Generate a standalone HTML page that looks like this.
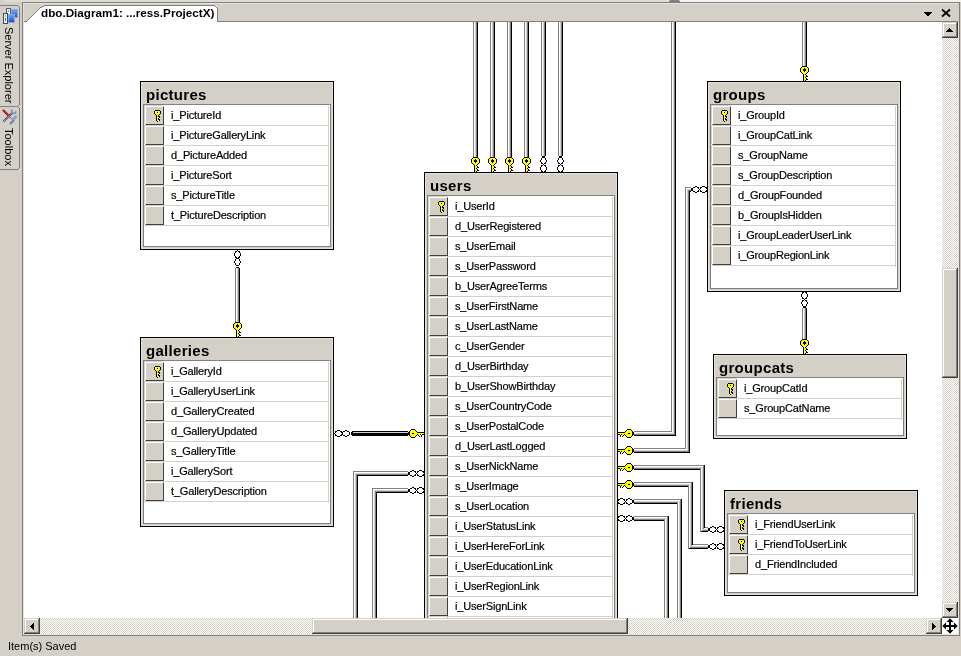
<!DOCTYPE html><html><head><meta charset="utf-8"><style>
html,body{margin:0;padding:0}
body{width:961px;height:656px;overflow:hidden;background:#d4d0c8;position:relative;font-family:"Liberation Sans",sans-serif;}
.a{position:absolute}
.tb{position:absolute;background:#d4d0c8;box-sizing:border-box;border:1px solid #000;box-shadow:inset 1px 1px 0 #e4e1db, inset -1px -1px 0 #e4e1db;}
.tt{will-change:transform;position:absolute;left:5px;top:4px;font-size:15px;font-weight:bold;color:#000;line-height:18px;letter-spacing:0.3px}
.gr{position:absolute;left:2px;top:22px;width:186px;border:1px solid #808080;background:#fff}
.rb{position:absolute;left:4px;width:17px;height:17px;border-top:1px solid #fff;border-left:1px solid #fff;border-right:1px solid #404040;border-bottom:1px solid #404040;background:#d4d0c8;box-shadow:-1px -1px 0 #d4d0c8}
.rl{position:absolute;left:3px;width:185px;height:1px;background:#d4d0c8}
.vl{position:absolute;left:187px;top:24px;width:1px;background:#d4d0c8}
.rt{will-change:transform;-webkit-text-stroke:0.2px #000;position:absolute;left:30px;height:19px;line-height:19px;font-size:11px;color:#000;white-space:nowrap;letter-spacing:-0.17px}
.ks{position:absolute;left:0;top:0}
</style></head><body><div class="a" style="left:5px;top:0;width:664px;height:2px;background:#dfdcd5"></div><div class="a" style="left:670px;top:0;width:9px;height:1px;background:#808080"></div><div class="a" style="left:669px;top:1px;width:11px;height:1px;background:#808080"></div><div class="a" style="left:680px;top:0;width:281px;height:2px;background:#f2f2f0"></div><div class="a" style="left:22px;top:2px;width:936px;height:632px;border:1px solid #808080;background:#d4d0c8"></div><div class="a" style="left:23px;top:22px;width:919px;height:596px;background:#fff;overflow:hidden"><div class="a" style="left:-23px;top:-22px;width:961px;height:656px"><div class="tb" style="left:140px;top:81px;width:194px;height:169px"><div class="tt">pictures</div><div class="gr" style="height:141px"></div><div class="rb" style="top:24px"></div><div class="rl" style="top:43px"></div><div class="rt" style="top:24px">i_PictureId</div><div class="rb" style="top:44px"></div><div class="rl" style="top:63px"></div><div class="rt" style="top:44px">i_PictureGalleryLink</div><div class="rb" style="top:64px"></div><div class="rl" style="top:83px"></div><div class="rt" style="top:64px">d_PictureAdded</div><div class="rb" style="top:84px"></div><div class="rl" style="top:103px"></div><div class="rt" style="top:84px">i_PictureSort</div><div class="rb" style="top:104px"></div><div class="rl" style="top:123px"></div><div class="rt" style="top:104px">s_PictureTitle</div><div class="rb" style="top:124px"></div><div class="rl" style="top:143px"></div><div class="rt" style="top:124px">t_PictureDescription</div><div class="vl" style="height:121px"></div><svg class="ks" width="30" height="146" shape-rendering="crispEdges"><rect x="14" y="28" width="1" height="1" fill="#000"/><rect x="15" y="28" width="1" height="1" fill="#000"/><rect x="16" y="28" width="1" height="1" fill="#000"/><rect x="17" y="28" width="1" height="1" fill="#000"/><rect x="18" y="28" width="1" height="1" fill="#000"/><rect x="13" y="29" width="1" height="1" fill="#000"/><rect x="14" y="29" width="1" height="1" fill="#ff0"/><rect x="15" y="29" width="1" height="1" fill="#ff0"/><rect x="16" y="29" width="1" height="1" fill="#ff0"/><rect x="17" y="29" width="1" height="1" fill="#ff0"/><rect x="18" y="29" width="1" height="1" fill="#ff0"/><rect x="19" y="29" width="1" height="1" fill="#000"/><rect x="13" y="30" width="1" height="1" fill="#000"/><rect x="14" y="30" width="1" height="1" fill="#ff0"/><rect x="15" y="30" width="1" height="1" fill="#ff0"/><rect x="16" y="30" width="1" height="1" fill="#000"/><rect x="17" y="30" width="1" height="1" fill="#ff0"/><rect x="18" y="30" width="1" height="1" fill="#ff0"/><rect x="19" y="30" width="1" height="1" fill="#000"/><rect x="13" y="31" width="1" height="1" fill="#000"/><rect x="14" y="31" width="1" height="1" fill="#ff0"/><rect x="15" y="31" width="1" height="1" fill="#ff0"/><rect x="16" y="31" width="1" height="1" fill="#ff0"/><rect x="17" y="31" width="1" height="1" fill="#ff0"/><rect x="18" y="31" width="1" height="1" fill="#ff0"/><rect x="19" y="31" width="1" height="1" fill="#000"/><rect x="14" y="32" width="1" height="1" fill="#000"/><rect x="15" y="32" width="1" height="1" fill="#ff0"/><rect x="16" y="32" width="1" height="1" fill="#ff0"/><rect x="17" y="32" width="1" height="1" fill="#ff0"/><rect x="18" y="32" width="1" height="1" fill="#000"/><rect x="15" y="33" width="1" height="1" fill="#000"/><rect x="16" y="33" width="1" height="1" fill="#ff0"/><rect x="17" y="33" width="1" height="1" fill="#000"/><rect x="15" y="34" width="1" height="1" fill="#000"/><rect x="16" y="34" width="1" height="1" fill="#ff0"/><rect x="17" y="34" width="1" height="1" fill="#000"/><rect x="18" y="34" width="1" height="1" fill="#000"/><rect x="15" y="35" width="1" height="1" fill="#000"/><rect x="16" y="35" width="1" height="1" fill="#ff0"/><rect x="17" y="35" width="1" height="1" fill="#ff0"/><rect x="18" y="35" width="1" height="1" fill="#000"/><rect x="15" y="36" width="1" height="1" fill="#000"/><rect x="16" y="36" width="1" height="1" fill="#ff0"/><rect x="17" y="36" width="1" height="1" fill="#000"/><rect x="15" y="37" width="1" height="1" fill="#000"/><rect x="16" y="37" width="1" height="1" fill="#ff0"/><rect x="17" y="37" width="1" height="1" fill="#000"/><rect x="18" y="37" width="1" height="1" fill="#000"/><rect x="15" y="38" width="1" height="1" fill="#000"/><rect x="16" y="38" width="1" height="1" fill="#ff0"/><rect x="17" y="38" width="1" height="1" fill="#ff0"/><rect x="18" y="38" width="1" height="1" fill="#000"/><rect x="16" y="39" width="1" height="1" fill="#000"/></svg></div><div class="tb" style="left:140px;top:337px;width:194px;height:190px"><div class="tt">galleries</div><div class="gr" style="height:162px"></div><div class="rb" style="top:24px"></div><div class="rl" style="top:43px"></div><div class="rt" style="top:24px">i_GalleryId</div><div class="rb" style="top:44px"></div><div class="rl" style="top:63px"></div><div class="rt" style="top:44px">i_GalleryUserLink</div><div class="rb" style="top:64px"></div><div class="rl" style="top:83px"></div><div class="rt" style="top:64px">d_GalleryCreated</div><div class="rb" style="top:84px"></div><div class="rl" style="top:103px"></div><div class="rt" style="top:84px">d_GalleryUpdated</div><div class="rb" style="top:104px"></div><div class="rl" style="top:123px"></div><div class="rt" style="top:104px">s_GalleryTitle</div><div class="rb" style="top:124px"></div><div class="rl" style="top:143px"></div><div class="rt" style="top:124px">i_GallerySort</div><div class="rb" style="top:144px"></div><div class="rl" style="top:163px"></div><div class="rt" style="top:144px">t_GalleryDescription</div><div class="vl" style="height:141px"></div><svg class="ks" width="30" height="166" shape-rendering="crispEdges"><rect x="14" y="28" width="1" height="1" fill="#000"/><rect x="15" y="28" width="1" height="1" fill="#000"/><rect x="16" y="28" width="1" height="1" fill="#000"/><rect x="17" y="28" width="1" height="1" fill="#000"/><rect x="18" y="28" width="1" height="1" fill="#000"/><rect x="13" y="29" width="1" height="1" fill="#000"/><rect x="14" y="29" width="1" height="1" fill="#ff0"/><rect x="15" y="29" width="1" height="1" fill="#ff0"/><rect x="16" y="29" width="1" height="1" fill="#ff0"/><rect x="17" y="29" width="1" height="1" fill="#ff0"/><rect x="18" y="29" width="1" height="1" fill="#ff0"/><rect x="19" y="29" width="1" height="1" fill="#000"/><rect x="13" y="30" width="1" height="1" fill="#000"/><rect x="14" y="30" width="1" height="1" fill="#ff0"/><rect x="15" y="30" width="1" height="1" fill="#ff0"/><rect x="16" y="30" width="1" height="1" fill="#000"/><rect x="17" y="30" width="1" height="1" fill="#ff0"/><rect x="18" y="30" width="1" height="1" fill="#ff0"/><rect x="19" y="30" width="1" height="1" fill="#000"/><rect x="13" y="31" width="1" height="1" fill="#000"/><rect x="14" y="31" width="1" height="1" fill="#ff0"/><rect x="15" y="31" width="1" height="1" fill="#ff0"/><rect x="16" y="31" width="1" height="1" fill="#ff0"/><rect x="17" y="31" width="1" height="1" fill="#ff0"/><rect x="18" y="31" width="1" height="1" fill="#ff0"/><rect x="19" y="31" width="1" height="1" fill="#000"/><rect x="14" y="32" width="1" height="1" fill="#000"/><rect x="15" y="32" width="1" height="1" fill="#ff0"/><rect x="16" y="32" width="1" height="1" fill="#ff0"/><rect x="17" y="32" width="1" height="1" fill="#ff0"/><rect x="18" y="32" width="1" height="1" fill="#000"/><rect x="15" y="33" width="1" height="1" fill="#000"/><rect x="16" y="33" width="1" height="1" fill="#ff0"/><rect x="17" y="33" width="1" height="1" fill="#000"/><rect x="15" y="34" width="1" height="1" fill="#000"/><rect x="16" y="34" width="1" height="1" fill="#ff0"/><rect x="17" y="34" width="1" height="1" fill="#000"/><rect x="18" y="34" width="1" height="1" fill="#000"/><rect x="15" y="35" width="1" height="1" fill="#000"/><rect x="16" y="35" width="1" height="1" fill="#ff0"/><rect x="17" y="35" width="1" height="1" fill="#ff0"/><rect x="18" y="35" width="1" height="1" fill="#000"/><rect x="15" y="36" width="1" height="1" fill="#000"/><rect x="16" y="36" width="1" height="1" fill="#ff0"/><rect x="17" y="36" width="1" height="1" fill="#000"/><rect x="15" y="37" width="1" height="1" fill="#000"/><rect x="16" y="37" width="1" height="1" fill="#ff0"/><rect x="17" y="37" width="1" height="1" fill="#000"/><rect x="18" y="37" width="1" height="1" fill="#000"/><rect x="15" y="38" width="1" height="1" fill="#000"/><rect x="16" y="38" width="1" height="1" fill="#ff0"/><rect x="17" y="38" width="1" height="1" fill="#ff0"/><rect x="18" y="38" width="1" height="1" fill="#000"/><rect x="16" y="39" width="1" height="1" fill="#000"/></svg></div><div class="tb" style="left:424px;top:172px;width:194px;height:460px"><div class="tt">users</div><div class="gr" style="height:432px"></div><div class="rb" style="top:24px"></div><div class="rl" style="top:43px"></div><div class="rt" style="top:24px">i_UserId</div><div class="rb" style="top:44px"></div><div class="rl" style="top:63px"></div><div class="rt" style="top:44px">d_UserRegistered</div><div class="rb" style="top:64px"></div><div class="rl" style="top:83px"></div><div class="rt" style="top:64px">s_UserEmail</div><div class="rb" style="top:84px"></div><div class="rl" style="top:103px"></div><div class="rt" style="top:84px">s_UserPassword</div><div class="rb" style="top:104px"></div><div class="rl" style="top:123px"></div><div class="rt" style="top:104px">b_UserAgreeTerms</div><div class="rb" style="top:124px"></div><div class="rl" style="top:143px"></div><div class="rt" style="top:124px">s_UserFirstName</div><div class="rb" style="top:144px"></div><div class="rl" style="top:163px"></div><div class="rt" style="top:144px">s_UserLastName</div><div class="rb" style="top:164px"></div><div class="rl" style="top:183px"></div><div class="rt" style="top:164px">c_UserGender</div><div class="rb" style="top:184px"></div><div class="rl" style="top:203px"></div><div class="rt" style="top:184px">d_UserBirthday</div><div class="rb" style="top:204px"></div><div class="rl" style="top:223px"></div><div class="rt" style="top:204px">b_UserShowBirthday</div><div class="rb" style="top:224px"></div><div class="rl" style="top:243px"></div><div class="rt" style="top:224px">s_UserCountryCode</div><div class="rb" style="top:244px"></div><div class="rl" style="top:263px"></div><div class="rt" style="top:244px">s_UserPostalCode</div><div class="rb" style="top:264px"></div><div class="rl" style="top:283px"></div><div class="rt" style="top:264px">d_UserLastLogged</div><div class="rb" style="top:284px"></div><div class="rl" style="top:303px"></div><div class="rt" style="top:284px">s_UserNickName</div><div class="rb" style="top:304px"></div><div class="rl" style="top:323px"></div><div class="rt" style="top:304px">s_UserImage</div><div class="rb" style="top:324px"></div><div class="rl" style="top:343px"></div><div class="rt" style="top:324px">s_UserLocation</div><div class="rb" style="top:344px"></div><div class="rl" style="top:363px"></div><div class="rt" style="top:344px">i_UserStatusLink</div><div class="rb" style="top:364px"></div><div class="rl" style="top:383px"></div><div class="rt" style="top:364px">i_UserHereForLink</div><div class="rb" style="top:384px"></div><div class="rl" style="top:403px"></div><div class="rt" style="top:384px">i_UserEducationLink</div><div class="rb" style="top:404px"></div><div class="rl" style="top:423px"></div><div class="rt" style="top:404px">i_UserRegionLink</div><div class="rb" style="top:424px"></div><div class="rl" style="top:443px"></div><div class="rt" style="top:424px">i_UserSignLink</div><div class="rb" style="top:444px"></div><div class="rl" style="top:463px"></div><div class="rt" style="top:444px">i_UserSomething</div><div class="vl" style="height:441px"></div><svg class="ks" width="30" height="466" shape-rendering="crispEdges"><rect x="14" y="28" width="1" height="1" fill="#000"/><rect x="15" y="28" width="1" height="1" fill="#000"/><rect x="16" y="28" width="1" height="1" fill="#000"/><rect x="17" y="28" width="1" height="1" fill="#000"/><rect x="18" y="28" width="1" height="1" fill="#000"/><rect x="13" y="29" width="1" height="1" fill="#000"/><rect x="14" y="29" width="1" height="1" fill="#ff0"/><rect x="15" y="29" width="1" height="1" fill="#ff0"/><rect x="16" y="29" width="1" height="1" fill="#ff0"/><rect x="17" y="29" width="1" height="1" fill="#ff0"/><rect x="18" y="29" width="1" height="1" fill="#ff0"/><rect x="19" y="29" width="1" height="1" fill="#000"/><rect x="13" y="30" width="1" height="1" fill="#000"/><rect x="14" y="30" width="1" height="1" fill="#ff0"/><rect x="15" y="30" width="1" height="1" fill="#ff0"/><rect x="16" y="30" width="1" height="1" fill="#000"/><rect x="17" y="30" width="1" height="1" fill="#ff0"/><rect x="18" y="30" width="1" height="1" fill="#ff0"/><rect x="19" y="30" width="1" height="1" fill="#000"/><rect x="13" y="31" width="1" height="1" fill="#000"/><rect x="14" y="31" width="1" height="1" fill="#ff0"/><rect x="15" y="31" width="1" height="1" fill="#ff0"/><rect x="16" y="31" width="1" height="1" fill="#ff0"/><rect x="17" y="31" width="1" height="1" fill="#ff0"/><rect x="18" y="31" width="1" height="1" fill="#ff0"/><rect x="19" y="31" width="1" height="1" fill="#000"/><rect x="14" y="32" width="1" height="1" fill="#000"/><rect x="15" y="32" width="1" height="1" fill="#ff0"/><rect x="16" y="32" width="1" height="1" fill="#ff0"/><rect x="17" y="32" width="1" height="1" fill="#ff0"/><rect x="18" y="32" width="1" height="1" fill="#000"/><rect x="15" y="33" width="1" height="1" fill="#000"/><rect x="16" y="33" width="1" height="1" fill="#ff0"/><rect x="17" y="33" width="1" height="1" fill="#000"/><rect x="15" y="34" width="1" height="1" fill="#000"/><rect x="16" y="34" width="1" height="1" fill="#ff0"/><rect x="17" y="34" width="1" height="1" fill="#000"/><rect x="18" y="34" width="1" height="1" fill="#000"/><rect x="15" y="35" width="1" height="1" fill="#000"/><rect x="16" y="35" width="1" height="1" fill="#ff0"/><rect x="17" y="35" width="1" height="1" fill="#ff0"/><rect x="18" y="35" width="1" height="1" fill="#000"/><rect x="15" y="36" width="1" height="1" fill="#000"/><rect x="16" y="36" width="1" height="1" fill="#ff0"/><rect x="17" y="36" width="1" height="1" fill="#000"/><rect x="15" y="37" width="1" height="1" fill="#000"/><rect x="16" y="37" width="1" height="1" fill="#ff0"/><rect x="17" y="37" width="1" height="1" fill="#000"/><rect x="18" y="37" width="1" height="1" fill="#000"/><rect x="15" y="38" width="1" height="1" fill="#000"/><rect x="16" y="38" width="1" height="1" fill="#ff0"/><rect x="17" y="38" width="1" height="1" fill="#ff0"/><rect x="18" y="38" width="1" height="1" fill="#000"/><rect x="16" y="39" width="1" height="1" fill="#000"/></svg></div><div class="tb" style="left:707px;top:81px;width:194px;height:211px"><div class="tt">groups</div><div class="gr" style="height:183px"></div><div class="rb" style="top:24px"></div><div class="rl" style="top:43px"></div><div class="rt" style="top:24px">i_GroupId</div><div class="rb" style="top:44px"></div><div class="rl" style="top:63px"></div><div class="rt" style="top:44px">i_GroupCatLink</div><div class="rb" style="top:64px"></div><div class="rl" style="top:83px"></div><div class="rt" style="top:64px">s_GroupName</div><div class="rb" style="top:84px"></div><div class="rl" style="top:103px"></div><div class="rt" style="top:84px">s_GroupDescription</div><div class="rb" style="top:104px"></div><div class="rl" style="top:123px"></div><div class="rt" style="top:104px">d_GroupFounded</div><div class="rb" style="top:124px"></div><div class="rl" style="top:143px"></div><div class="rt" style="top:124px">b_GroupIsHidden</div><div class="rb" style="top:144px"></div><div class="rl" style="top:163px"></div><div class="rt" style="top:144px">i_GroupLeaderUserLink</div><div class="rb" style="top:164px"></div><div class="rl" style="top:183px"></div><div class="rt" style="top:164px">i_GroupRegionLink</div><div class="vl" style="height:161px"></div><svg class="ks" width="30" height="186" shape-rendering="crispEdges"><rect x="14" y="28" width="1" height="1" fill="#000"/><rect x="15" y="28" width="1" height="1" fill="#000"/><rect x="16" y="28" width="1" height="1" fill="#000"/><rect x="17" y="28" width="1" height="1" fill="#000"/><rect x="18" y="28" width="1" height="1" fill="#000"/><rect x="13" y="29" width="1" height="1" fill="#000"/><rect x="14" y="29" width="1" height="1" fill="#ff0"/><rect x="15" y="29" width="1" height="1" fill="#ff0"/><rect x="16" y="29" width="1" height="1" fill="#ff0"/><rect x="17" y="29" width="1" height="1" fill="#ff0"/><rect x="18" y="29" width="1" height="1" fill="#ff0"/><rect x="19" y="29" width="1" height="1" fill="#000"/><rect x="13" y="30" width="1" height="1" fill="#000"/><rect x="14" y="30" width="1" height="1" fill="#ff0"/><rect x="15" y="30" width="1" height="1" fill="#ff0"/><rect x="16" y="30" width="1" height="1" fill="#000"/><rect x="17" y="30" width="1" height="1" fill="#ff0"/><rect x="18" y="30" width="1" height="1" fill="#ff0"/><rect x="19" y="30" width="1" height="1" fill="#000"/><rect x="13" y="31" width="1" height="1" fill="#000"/><rect x="14" y="31" width="1" height="1" fill="#ff0"/><rect x="15" y="31" width="1" height="1" fill="#ff0"/><rect x="16" y="31" width="1" height="1" fill="#ff0"/><rect x="17" y="31" width="1" height="1" fill="#ff0"/><rect x="18" y="31" width="1" height="1" fill="#ff0"/><rect x="19" y="31" width="1" height="1" fill="#000"/><rect x="14" y="32" width="1" height="1" fill="#000"/><rect x="15" y="32" width="1" height="1" fill="#ff0"/><rect x="16" y="32" width="1" height="1" fill="#ff0"/><rect x="17" y="32" width="1" height="1" fill="#ff0"/><rect x="18" y="32" width="1" height="1" fill="#000"/><rect x="15" y="33" width="1" height="1" fill="#000"/><rect x="16" y="33" width="1" height="1" fill="#ff0"/><rect x="17" y="33" width="1" height="1" fill="#000"/><rect x="15" y="34" width="1" height="1" fill="#000"/><rect x="16" y="34" width="1" height="1" fill="#ff0"/><rect x="17" y="34" width="1" height="1" fill="#000"/><rect x="18" y="34" width="1" height="1" fill="#000"/><rect x="15" y="35" width="1" height="1" fill="#000"/><rect x="16" y="35" width="1" height="1" fill="#ff0"/><rect x="17" y="35" width="1" height="1" fill="#ff0"/><rect x="18" y="35" width="1" height="1" fill="#000"/><rect x="15" y="36" width="1" height="1" fill="#000"/><rect x="16" y="36" width="1" height="1" fill="#ff0"/><rect x="17" y="36" width="1" height="1" fill="#000"/><rect x="15" y="37" width="1" height="1" fill="#000"/><rect x="16" y="37" width="1" height="1" fill="#ff0"/><rect x="17" y="37" width="1" height="1" fill="#000"/><rect x="18" y="37" width="1" height="1" fill="#000"/><rect x="15" y="38" width="1" height="1" fill="#000"/><rect x="16" y="38" width="1" height="1" fill="#ff0"/><rect x="17" y="38" width="1" height="1" fill="#ff0"/><rect x="18" y="38" width="1" height="1" fill="#000"/><rect x="16" y="39" width="1" height="1" fill="#000"/></svg></div><div class="tb" style="left:713px;top:354px;width:194px;height:85px"><div class="tt">groupcats</div><div class="gr" style="height:57px"></div><div class="rb" style="top:24px"></div><div class="rl" style="top:43px"></div><div class="rt" style="top:24px">i_GroupCatId</div><div class="rb" style="top:44px"></div><div class="rl" style="top:63px"></div><div class="rt" style="top:44px">s_GroupCatName</div><div class="vl" style="height:41px"></div><svg class="ks" width="30" height="66" shape-rendering="crispEdges"><rect x="14" y="28" width="1" height="1" fill="#000"/><rect x="15" y="28" width="1" height="1" fill="#000"/><rect x="16" y="28" width="1" height="1" fill="#000"/><rect x="17" y="28" width="1" height="1" fill="#000"/><rect x="18" y="28" width="1" height="1" fill="#000"/><rect x="13" y="29" width="1" height="1" fill="#000"/><rect x="14" y="29" width="1" height="1" fill="#ff0"/><rect x="15" y="29" width="1" height="1" fill="#ff0"/><rect x="16" y="29" width="1" height="1" fill="#ff0"/><rect x="17" y="29" width="1" height="1" fill="#ff0"/><rect x="18" y="29" width="1" height="1" fill="#ff0"/><rect x="19" y="29" width="1" height="1" fill="#000"/><rect x="13" y="30" width="1" height="1" fill="#000"/><rect x="14" y="30" width="1" height="1" fill="#ff0"/><rect x="15" y="30" width="1" height="1" fill="#ff0"/><rect x="16" y="30" width="1" height="1" fill="#000"/><rect x="17" y="30" width="1" height="1" fill="#ff0"/><rect x="18" y="30" width="1" height="1" fill="#ff0"/><rect x="19" y="30" width="1" height="1" fill="#000"/><rect x="13" y="31" width="1" height="1" fill="#000"/><rect x="14" y="31" width="1" height="1" fill="#ff0"/><rect x="15" y="31" width="1" height="1" fill="#ff0"/><rect x="16" y="31" width="1" height="1" fill="#ff0"/><rect x="17" y="31" width="1" height="1" fill="#ff0"/><rect x="18" y="31" width="1" height="1" fill="#ff0"/><rect x="19" y="31" width="1" height="1" fill="#000"/><rect x="14" y="32" width="1" height="1" fill="#000"/><rect x="15" y="32" width="1" height="1" fill="#ff0"/><rect x="16" y="32" width="1" height="1" fill="#ff0"/><rect x="17" y="32" width="1" height="1" fill="#ff0"/><rect x="18" y="32" width="1" height="1" fill="#000"/><rect x="15" y="33" width="1" height="1" fill="#000"/><rect x="16" y="33" width="1" height="1" fill="#ff0"/><rect x="17" y="33" width="1" height="1" fill="#000"/><rect x="15" y="34" width="1" height="1" fill="#000"/><rect x="16" y="34" width="1" height="1" fill="#ff0"/><rect x="17" y="34" width="1" height="1" fill="#000"/><rect x="18" y="34" width="1" height="1" fill="#000"/><rect x="15" y="35" width="1" height="1" fill="#000"/><rect x="16" y="35" width="1" height="1" fill="#ff0"/><rect x="17" y="35" width="1" height="1" fill="#ff0"/><rect x="18" y="35" width="1" height="1" fill="#000"/><rect x="15" y="36" width="1" height="1" fill="#000"/><rect x="16" y="36" width="1" height="1" fill="#ff0"/><rect x="17" y="36" width="1" height="1" fill="#000"/><rect x="15" y="37" width="1" height="1" fill="#000"/><rect x="16" y="37" width="1" height="1" fill="#ff0"/><rect x="17" y="37" width="1" height="1" fill="#000"/><rect x="18" y="37" width="1" height="1" fill="#000"/><rect x="15" y="38" width="1" height="1" fill="#000"/><rect x="16" y="38" width="1" height="1" fill="#ff0"/><rect x="17" y="38" width="1" height="1" fill="#ff0"/><rect x="18" y="38" width="1" height="1" fill="#000"/><rect x="16" y="39" width="1" height="1" fill="#000"/></svg></div><div class="tb" style="left:724px;top:490px;width:194px;height:106px"><div class="tt">friends</div><div class="gr" style="height:78px"></div><div class="rb" style="top:24px"></div><div class="rl" style="top:43px"></div><div class="rt" style="top:24px">i_FriendUserLink</div><div class="rb" style="top:44px"></div><div class="rl" style="top:63px"></div><div class="rt" style="top:44px">i_FriendToUserLink</div><div class="rb" style="top:64px"></div><div class="rl" style="top:83px"></div><div class="rt" style="top:64px">d_FriendIncluded</div><div class="vl" style="height:61px"></div><svg class="ks" width="30" height="86" shape-rendering="crispEdges"><rect x="14" y="28" width="1" height="1" fill="#000"/><rect x="15" y="28" width="1" height="1" fill="#000"/><rect x="16" y="28" width="1" height="1" fill="#000"/><rect x="17" y="28" width="1" height="1" fill="#000"/><rect x="18" y="28" width="1" height="1" fill="#000"/><rect x="13" y="29" width="1" height="1" fill="#000"/><rect x="14" y="29" width="1" height="1" fill="#ff0"/><rect x="15" y="29" width="1" height="1" fill="#ff0"/><rect x="16" y="29" width="1" height="1" fill="#ff0"/><rect x="17" y="29" width="1" height="1" fill="#ff0"/><rect x="18" y="29" width="1" height="1" fill="#ff0"/><rect x="19" y="29" width="1" height="1" fill="#000"/><rect x="13" y="30" width="1" height="1" fill="#000"/><rect x="14" y="30" width="1" height="1" fill="#ff0"/><rect x="15" y="30" width="1" height="1" fill="#ff0"/><rect x="16" y="30" width="1" height="1" fill="#000"/><rect x="17" y="30" width="1" height="1" fill="#ff0"/><rect x="18" y="30" width="1" height="1" fill="#ff0"/><rect x="19" y="30" width="1" height="1" fill="#000"/><rect x="13" y="31" width="1" height="1" fill="#000"/><rect x="14" y="31" width="1" height="1" fill="#ff0"/><rect x="15" y="31" width="1" height="1" fill="#ff0"/><rect x="16" y="31" width="1" height="1" fill="#ff0"/><rect x="17" y="31" width="1" height="1" fill="#ff0"/><rect x="18" y="31" width="1" height="1" fill="#ff0"/><rect x="19" y="31" width="1" height="1" fill="#000"/><rect x="14" y="32" width="1" height="1" fill="#000"/><rect x="15" y="32" width="1" height="1" fill="#ff0"/><rect x="16" y="32" width="1" height="1" fill="#ff0"/><rect x="17" y="32" width="1" height="1" fill="#ff0"/><rect x="18" y="32" width="1" height="1" fill="#000"/><rect x="15" y="33" width="1" height="1" fill="#000"/><rect x="16" y="33" width="1" height="1" fill="#ff0"/><rect x="17" y="33" width="1" height="1" fill="#000"/><rect x="15" y="34" width="1" height="1" fill="#000"/><rect x="16" y="34" width="1" height="1" fill="#ff0"/><rect x="17" y="34" width="1" height="1" fill="#000"/><rect x="18" y="34" width="1" height="1" fill="#000"/><rect x="15" y="35" width="1" height="1" fill="#000"/><rect x="16" y="35" width="1" height="1" fill="#ff0"/><rect x="17" y="35" width="1" height="1" fill="#ff0"/><rect x="18" y="35" width="1" height="1" fill="#000"/><rect x="15" y="36" width="1" height="1" fill="#000"/><rect x="16" y="36" width="1" height="1" fill="#ff0"/><rect x="17" y="36" width="1" height="1" fill="#000"/><rect x="15" y="37" width="1" height="1" fill="#000"/><rect x="16" y="37" width="1" height="1" fill="#ff0"/><rect x="17" y="37" width="1" height="1" fill="#000"/><rect x="18" y="37" width="1" height="1" fill="#000"/><rect x="15" y="38" width="1" height="1" fill="#000"/><rect x="16" y="38" width="1" height="1" fill="#ff0"/><rect x="17" y="38" width="1" height="1" fill="#ff0"/><rect x="18" y="38" width="1" height="1" fill="#000"/><rect x="16" y="39" width="1" height="1" fill="#000"/><rect x="14" y="48" width="1" height="1" fill="#000"/><rect x="15" y="48" width="1" height="1" fill="#000"/><rect x="16" y="48" width="1" height="1" fill="#000"/><rect x="17" y="48" width="1" height="1" fill="#000"/><rect x="18" y="48" width="1" height="1" fill="#000"/><rect x="13" y="49" width="1" height="1" fill="#000"/><rect x="14" y="49" width="1" height="1" fill="#ff0"/><rect x="15" y="49" width="1" height="1" fill="#ff0"/><rect x="16" y="49" width="1" height="1" fill="#ff0"/><rect x="17" y="49" width="1" height="1" fill="#ff0"/><rect x="18" y="49" width="1" height="1" fill="#ff0"/><rect x="19" y="49" width="1" height="1" fill="#000"/><rect x="13" y="50" width="1" height="1" fill="#000"/><rect x="14" y="50" width="1" height="1" fill="#ff0"/><rect x="15" y="50" width="1" height="1" fill="#ff0"/><rect x="16" y="50" width="1" height="1" fill="#000"/><rect x="17" y="50" width="1" height="1" fill="#ff0"/><rect x="18" y="50" width="1" height="1" fill="#ff0"/><rect x="19" y="50" width="1" height="1" fill="#000"/><rect x="13" y="51" width="1" height="1" fill="#000"/><rect x="14" y="51" width="1" height="1" fill="#ff0"/><rect x="15" y="51" width="1" height="1" fill="#ff0"/><rect x="16" y="51" width="1" height="1" fill="#ff0"/><rect x="17" y="51" width="1" height="1" fill="#ff0"/><rect x="18" y="51" width="1" height="1" fill="#ff0"/><rect x="19" y="51" width="1" height="1" fill="#000"/><rect x="14" y="52" width="1" height="1" fill="#000"/><rect x="15" y="52" width="1" height="1" fill="#ff0"/><rect x="16" y="52" width="1" height="1" fill="#ff0"/><rect x="17" y="52" width="1" height="1" fill="#ff0"/><rect x="18" y="52" width="1" height="1" fill="#000"/><rect x="15" y="53" width="1" height="1" fill="#000"/><rect x="16" y="53" width="1" height="1" fill="#ff0"/><rect x="17" y="53" width="1" height="1" fill="#000"/><rect x="15" y="54" width="1" height="1" fill="#000"/><rect x="16" y="54" width="1" height="1" fill="#ff0"/><rect x="17" y="54" width="1" height="1" fill="#000"/><rect x="18" y="54" width="1" height="1" fill="#000"/><rect x="15" y="55" width="1" height="1" fill="#000"/><rect x="16" y="55" width="1" height="1" fill="#ff0"/><rect x="17" y="55" width="1" height="1" fill="#ff0"/><rect x="18" y="55" width="1" height="1" fill="#000"/><rect x="15" y="56" width="1" height="1" fill="#000"/><rect x="16" y="56" width="1" height="1" fill="#ff0"/><rect x="17" y="56" width="1" height="1" fill="#000"/><rect x="15" y="57" width="1" height="1" fill="#000"/><rect x="16" y="57" width="1" height="1" fill="#ff0"/><rect x="17" y="57" width="1" height="1" fill="#000"/><rect x="18" y="57" width="1" height="1" fill="#000"/><rect x="15" y="58" width="1" height="1" fill="#000"/><rect x="16" y="58" width="1" height="1" fill="#ff0"/><rect x="17" y="58" width="1" height="1" fill="#ff0"/><rect x="18" y="58" width="1" height="1" fill="#000"/><rect x="16" y="59" width="1" height="1" fill="#000"/></svg></div><svg class="a" style="left:0;top:0" width="961" height="656" shape-rendering="crispEdges"><rect x="473" y="22" width="1" height="135" fill="#808080"/><rect x="474" y="22" width="1" height="135" fill="#ffffff"/><rect x="475" y="22" width="1" height="135" fill="#d4d0c8"/><rect x="476" y="22" width="1" height="135" fill="#808080"/><rect x="477" y="22" width="1" height="135" fill="#000000"/><rect x="477" y="164" width="1" height="1" fill="#000000"/><rect x="477" y="166" width="1" height="1" fill="#000000"/><rect x="477" y="169" width="1" height="1" fill="#000000"/><rect x="490" y="22" width="1" height="135" fill="#808080"/><rect x="491" y="22" width="1" height="135" fill="#ffffff"/><rect x="492" y="22" width="1" height="135" fill="#d4d0c8"/><rect x="493" y="22" width="1" height="135" fill="#808080"/><rect x="494" y="22" width="1" height="135" fill="#000000"/><rect x="494" y="164" width="1" height="1" fill="#000000"/><rect x="494" y="166" width="1" height="1" fill="#000000"/><rect x="494" y="169" width="1" height="1" fill="#000000"/><rect x="507" y="22" width="1" height="135" fill="#808080"/><rect x="508" y="22" width="1" height="135" fill="#ffffff"/><rect x="509" y="22" width="1" height="135" fill="#d4d0c8"/><rect x="510" y="22" width="1" height="135" fill="#808080"/><rect x="511" y="22" width="1" height="135" fill="#000000"/><rect x="511" y="164" width="1" height="1" fill="#000000"/><rect x="511" y="166" width="1" height="1" fill="#000000"/><rect x="511" y="169" width="1" height="1" fill="#000000"/><rect x="524" y="22" width="1" height="135" fill="#808080"/><rect x="525" y="22" width="1" height="135" fill="#ffffff"/><rect x="526" y="22" width="1" height="135" fill="#d4d0c8"/><rect x="527" y="22" width="1" height="135" fill="#808080"/><rect x="528" y="22" width="1" height="135" fill="#000000"/><rect x="528" y="164" width="1" height="1" fill="#000000"/><rect x="528" y="166" width="1" height="1" fill="#000000"/><rect x="528" y="169" width="1" height="1" fill="#000000"/><rect x="541" y="22" width="1" height="134" fill="#808080"/><rect x="542" y="22" width="1" height="134" fill="#ffffff"/><rect x="543" y="22" width="1" height="134" fill="#d4d0c8"/><rect x="544" y="22" width="1" height="134" fill="#808080"/><rect x="545" y="22" width="1" height="134" fill="#000000"/><rect x="545" y="158" width="1" height="2" fill="#000000"/><rect x="545" y="162" width="1" height="1" fill="#000000"/><rect x="545" y="166" width="1" height="1" fill="#000000"/><rect x="545" y="170" width="1" height="1" fill="#000000"/><rect x="558" y="22" width="1" height="134" fill="#808080"/><rect x="559" y="22" width="1" height="134" fill="#ffffff"/><rect x="560" y="22" width="1" height="134" fill="#d4d0c8"/><rect x="561" y="22" width="1" height="134" fill="#808080"/><rect x="562" y="22" width="1" height="134" fill="#000000"/><rect x="562" y="158" width="1" height="2" fill="#000000"/><rect x="562" y="162" width="1" height="1" fill="#000000"/><rect x="562" y="166" width="1" height="1" fill="#000000"/><rect x="562" y="170" width="1" height="1" fill="#000000"/><rect x="671" y="22" width="1" height="409" fill="#808080"/><rect x="672" y="22" width="1" height="410" fill="#ffffff"/><rect x="673" y="22" width="1" height="411" fill="#d4d0c8"/><rect x="674" y="22" width="1" height="412" fill="#808080"/><rect x="675" y="22" width="1" height="413" fill="#000000"/><rect x="802" y="22" width="1" height="44" fill="#808080"/><rect x="802" y="308" width="1" height="31" fill="#808080"/><rect x="803" y="22" width="1" height="44" fill="#ffffff"/><rect x="803" y="308" width="1" height="31" fill="#ffffff"/><rect x="804" y="22" width="1" height="44" fill="#d4d0c8"/><rect x="804" y="308" width="1" height="31" fill="#d4d0c8"/><rect x="805" y="22" width="1" height="44" fill="#808080"/><rect x="805" y="308" width="1" height="31" fill="#808080"/><rect x="806" y="22" width="1" height="44" fill="#000000"/><rect x="806" y="73" width="1" height="1" fill="#000000"/><rect x="806" y="75" width="1" height="1" fill="#000000"/><rect x="806" y="78" width="1" height="1" fill="#000000"/><rect x="806" y="293" width="1" height="1" fill="#000000"/><rect x="806" y="297" width="1" height="1" fill="#000000"/><rect x="806" y="301" width="1" height="1" fill="#000000"/><rect x="806" y="304" width="1" height="2" fill="#000000"/><rect x="806" y="308" width="1" height="31" fill="#000000"/><rect x="806" y="346" width="1" height="1" fill="#000000"/><rect x="806" y="348" width="1" height="1" fill="#000000"/><rect x="806" y="351" width="1" height="1" fill="#000000"/><rect x="802" y="66" width="5" height="1" fill="#000000"/><rect x="802" y="339" width="5" height="1" fill="#000000"/><rect x="801" y="67" width="1" height="1" fill="#000000"/><rect x="801" y="72" width="1" height="1" fill="#000000"/><rect x="801" y="294" width="1" height="3" fill="#000000"/><rect x="801" y="302" width="1" height="2" fill="#000000"/><rect x="801" y="340" width="1" height="1" fill="#000000"/><rect x="801" y="345" width="1" height="1" fill="#000000"/><rect x="802" y="67" width="5" height="1" fill="#ffff00"/><rect x="802" y="72" width="5" height="1" fill="#ffff00"/><rect x="802" y="340" width="5" height="1" fill="#ffff00"/><rect x="802" y="345" width="5" height="1" fill="#ffff00"/><rect x="807" y="67" width="1" height="1" fill="#000000"/><rect x="807" y="72" width="1" height="1" fill="#000000"/><rect x="807" y="294" width="1" height="3" fill="#000000"/><rect x="807" y="302" width="1" height="2" fill="#000000"/><rect x="807" y="340" width="1" height="1" fill="#000000"/><rect x="807" y="345" width="1" height="1" fill="#000000"/><rect x="800" y="68" width="1" height="4" fill="#000000"/><rect x="800" y="341" width="1" height="4" fill="#000000"/><rect x="801" y="68" width="3" height="1" fill="#ffff00"/><rect x="801" y="71" width="3" height="1" fill="#ffff00"/><rect x="801" y="341" width="3" height="1" fill="#ffff00"/><rect x="801" y="344" width="3" height="1" fill="#ffff00"/><rect x="804" y="68" width="1" height="1" fill="#000000"/><rect x="804" y="71" width="1" height="1" fill="#000000"/><rect x="804" y="299" width="1" height="1" fill="#000000"/><rect x="804" y="341" width="1" height="1" fill="#000000"/><rect x="804" y="344" width="1" height="1" fill="#000000"/><rect x="805" y="68" width="3" height="1" fill="#ffff00"/><rect x="805" y="71" width="3" height="1" fill="#ffff00"/><rect x="805" y="341" width="3" height="1" fill="#ffff00"/><rect x="805" y="344" width="3" height="1" fill="#ffff00"/><rect x="808" y="68" width="1" height="4" fill="#000000"/><rect x="808" y="341" width="1" height="4" fill="#000000"/><rect x="801" y="69" width="2" height="2" fill="#ffff00"/><rect x="801" y="342" width="2" height="2" fill="#ffff00"/><rect x="803" y="69" width="3" height="2" fill="#000000"/><rect x="803" y="306" width="3" height="2" fill="#000000"/><rect x="803" y="342" width="3" height="2" fill="#000000"/><rect x="806" y="69" width="2" height="2" fill="#ffff00"/><rect x="806" y="342" width="2" height="2" fill="#ffff00"/><rect x="802" y="73" width="1" height="1" fill="#000000"/><rect x="802" y="293" width="1" height="1" fill="#000000"/><rect x="802" y="297" width="1" height="1" fill="#000000"/><rect x="802" y="301" width="1" height="1" fill="#000000"/><rect x="802" y="304" width="1" height="2" fill="#000000"/><rect x="802" y="346" width="1" height="1" fill="#000000"/><rect x="803" y="73" width="3" height="1" fill="#ffff00"/><rect x="803" y="346" width="3" height="1" fill="#ffff00"/><rect x="803" y="74" width="1" height="7" fill="#000000"/><rect x="803" y="347" width="1" height="7" fill="#000000"/><rect x="804" y="74" width="1" height="1" fill="#ffff00"/><rect x="804" y="77" width="1" height="1" fill="#ffff00"/><rect x="804" y="80" width="1" height="1" fill="#ffff00"/><rect x="804" y="347" width="1" height="1" fill="#ffff00"/><rect x="804" y="350" width="1" height="1" fill="#ffff00"/><rect x="804" y="353" width="1" height="1" fill="#ffff00"/><rect x="805" y="74" width="1" height="1" fill="#000000"/><rect x="805" y="77" width="1" height="1" fill="#000000"/><rect x="805" y="80" width="1" height="1" fill="#000000"/><rect x="805" y="347" width="1" height="1" fill="#000000"/><rect x="805" y="350" width="1" height="1" fill="#000000"/><rect x="805" y="353" width="1" height="1" fill="#000000"/><rect x="804" y="75" width="2" height="2" fill="#ffff00"/><rect x="804" y="78" width="2" height="2" fill="#ffff00"/><rect x="804" y="348" width="2" height="2" fill="#ffff00"/><rect x="804" y="351" width="2" height="2" fill="#ffff00"/><rect x="806" y="76" width="2" height="1" fill="#000000"/><rect x="806" y="79" width="2" height="1" fill="#000000"/><rect x="806" y="349" width="2" height="1" fill="#000000"/><rect x="806" y="352" width="2" height="1" fill="#000000"/><rect x="542" y="156" width="3" height="2" fill="#000000"/><rect x="559" y="156" width="3" height="2" fill="#000000"/><rect x="474" y="165" width="1" height="7" fill="#000000"/><rect x="475" y="165" width="1" height="1" fill="#ffff00"/><rect x="475" y="168" width="1" height="1" fill="#ffff00"/><rect x="475" y="171" width="1" height="1" fill="#ffff00"/><rect x="476" y="165" width="1" height="1" fill="#000000"/><rect x="476" y="168" width="1" height="1" fill="#000000"/><rect x="476" y="171" width="1" height="1" fill="#000000"/><rect x="491" y="165" width="1" height="7" fill="#000000"/><rect x="492" y="165" width="1" height="1" fill="#ffff00"/><rect x="492" y="168" width="1" height="1" fill="#ffff00"/><rect x="492" y="171" width="1" height="1" fill="#ffff00"/><rect x="493" y="165" width="1" height="1" fill="#000000"/><rect x="493" y="168" width="1" height="1" fill="#000000"/><rect x="493" y="171" width="1" height="1" fill="#000000"/><rect x="508" y="165" width="1" height="7" fill="#000000"/><rect x="509" y="165" width="1" height="1" fill="#ffff00"/><rect x="509" y="168" width="1" height="1" fill="#ffff00"/><rect x="509" y="171" width="1" height="1" fill="#ffff00"/><rect x="510" y="165" width="1" height="1" fill="#000000"/><rect x="510" y="168" width="1" height="1" fill="#000000"/><rect x="510" y="171" width="1" height="1" fill="#000000"/><rect x="525" y="165" width="1" height="7" fill="#000000"/><rect x="526" y="165" width="1" height="1" fill="#ffff00"/><rect x="526" y="168" width="1" height="1" fill="#ffff00"/><rect x="526" y="171" width="1" height="1" fill="#ffff00"/><rect x="527" y="165" width="1" height="1" fill="#000000"/><rect x="527" y="168" width="1" height="1" fill="#000000"/><rect x="527" y="171" width="1" height="1" fill="#000000"/><rect x="541" y="163" width="2" height="1" fill="#000000"/><rect x="541" y="165" width="2" height="1" fill="#000000"/><rect x="541" y="171" width="2" height="1" fill="#000000"/><rect x="543" y="163" width="1" height="1" fill="#ffffff"/><rect x="543" y="165" width="1" height="1" fill="#ffffff"/><rect x="543" y="171" width="1" height="1" fill="#ffffff"/><rect x="544" y="163" width="2" height="1" fill="#000000"/><rect x="544" y="165" width="2" height="1" fill="#000000"/><rect x="544" y="171" width="2" height="1" fill="#000000"/><rect x="558" y="163" width="2" height="1" fill="#000000"/><rect x="558" y="165" width="2" height="1" fill="#000000"/><rect x="558" y="171" width="2" height="1" fill="#000000"/><rect x="560" y="163" width="1" height="1" fill="#ffffff"/><rect x="560" y="165" width="1" height="1" fill="#ffffff"/><rect x="560" y="171" width="1" height="1" fill="#ffffff"/><rect x="561" y="163" width="2" height="1" fill="#000000"/><rect x="561" y="165" width="2" height="1" fill="#000000"/><rect x="561" y="171" width="2" height="1" fill="#000000"/><rect x="475" y="166" width="2" height="2" fill="#ffff00"/><rect x="475" y="169" width="2" height="2" fill="#ffff00"/><rect x="477" y="167" width="2" height="1" fill="#000000"/><rect x="477" y="170" width="2" height="1" fill="#000000"/><rect x="492" y="166" width="2" height="2" fill="#ffff00"/><rect x="492" y="169" width="2" height="2" fill="#ffff00"/><rect x="494" y="167" width="2" height="1" fill="#000000"/><rect x="494" y="170" width="2" height="1" fill="#000000"/><rect x="509" y="166" width="2" height="2" fill="#ffff00"/><rect x="509" y="169" width="2" height="2" fill="#ffff00"/><rect x="511" y="167" width="2" height="1" fill="#000000"/><rect x="511" y="170" width="2" height="1" fill="#000000"/><rect x="526" y="166" width="2" height="2" fill="#ffff00"/><rect x="526" y="169" width="2" height="2" fill="#ffff00"/><rect x="528" y="167" width="2" height="1" fill="#000000"/><rect x="528" y="170" width="2" height="1" fill="#000000"/><rect x="541" y="158" width="1" height="2" fill="#000000"/><rect x="541" y="162" width="1" height="1" fill="#000000"/><rect x="541" y="166" width="1" height="1" fill="#000000"/><rect x="541" y="170" width="1" height="1" fill="#000000"/><rect x="542" y="158" width="3" height="2" fill="#ffffff"/><rect x="542" y="162" width="3" height="1" fill="#ffffff"/><rect x="542" y="166" width="3" height="1" fill="#ffffff"/><rect x="542" y="170" width="3" height="1" fill="#ffffff"/><rect x="558" y="158" width="1" height="2" fill="#000000"/><rect x="558" y="162" width="1" height="1" fill="#000000"/><rect x="558" y="166" width="1" height="1" fill="#000000"/><rect x="558" y="170" width="1" height="1" fill="#000000"/><rect x="559" y="158" width="3" height="2" fill="#ffffff"/><rect x="559" y="162" width="3" height="1" fill="#ffffff"/><rect x="559" y="166" width="3" height="1" fill="#ffffff"/><rect x="559" y="170" width="3" height="1" fill="#ffffff"/><rect x="540" y="160" width="1" height="2" fill="#000000"/><rect x="540" y="167" width="1" height="3" fill="#000000"/><rect x="541" y="160" width="5" height="2" fill="#ffffff"/><rect x="541" y="167" width="5" height="3" fill="#ffffff"/><rect x="546" y="160" width="1" height="2" fill="#000000"/><rect x="546" y="167" width="1" height="3" fill="#000000"/><rect x="557" y="160" width="1" height="2" fill="#000000"/><rect x="557" y="167" width="1" height="3" fill="#000000"/><rect x="558" y="160" width="5" height="2" fill="#ffffff"/><rect x="558" y="167" width="5" height="3" fill="#ffffff"/><rect x="563" y="160" width="1" height="2" fill="#000000"/><rect x="563" y="167" width="1" height="3" fill="#000000"/><rect x="473" y="164" width="1" height="1" fill="#000000"/><rect x="474" y="164" width="3" height="1" fill="#ffff00"/><rect x="490" y="164" width="1" height="1" fill="#000000"/><rect x="491" y="164" width="3" height="1" fill="#ffff00"/><rect x="507" y="164" width="1" height="1" fill="#000000"/><rect x="508" y="164" width="3" height="1" fill="#ffff00"/><rect x="524" y="164" width="1" height="1" fill="#000000"/><rect x="525" y="164" width="3" height="1" fill="#ffff00"/><rect x="543" y="164" width="1" height="1" fill="#000000"/><rect x="560" y="164" width="1" height="1" fill="#000000"/><rect x="472" y="158" width="1" height="1" fill="#000000"/><rect x="472" y="163" width="1" height="1" fill="#000000"/><rect x="473" y="158" width="5" height="1" fill="#ffff00"/><rect x="473" y="163" width="5" height="1" fill="#ffff00"/><rect x="478" y="158" width="1" height="1" fill="#000000"/><rect x="478" y="163" width="1" height="1" fill="#000000"/><rect x="489" y="158" width="1" height="1" fill="#000000"/><rect x="489" y="163" width="1" height="1" fill="#000000"/><rect x="490" y="158" width="5" height="1" fill="#ffff00"/><rect x="490" y="163" width="5" height="1" fill="#ffff00"/><rect x="495" y="158" width="1" height="1" fill="#000000"/><rect x="495" y="163" width="1" height="1" fill="#000000"/><rect x="506" y="158" width="1" height="1" fill="#000000"/><rect x="506" y="163" width="1" height="1" fill="#000000"/><rect x="507" y="158" width="5" height="1" fill="#ffff00"/><rect x="507" y="163" width="5" height="1" fill="#ffff00"/><rect x="512" y="158" width="1" height="1" fill="#000000"/><rect x="512" y="163" width="1" height="1" fill="#000000"/><rect x="523" y="158" width="1" height="1" fill="#000000"/><rect x="523" y="163" width="1" height="1" fill="#000000"/><rect x="524" y="158" width="5" height="1" fill="#ffff00"/><rect x="524" y="163" width="5" height="1" fill="#ffff00"/><rect x="529" y="158" width="1" height="1" fill="#000000"/><rect x="529" y="163" width="1" height="1" fill="#000000"/><rect x="471" y="159" width="1" height="4" fill="#000000"/><rect x="472" y="159" width="3" height="1" fill="#ffff00"/><rect x="472" y="162" width="3" height="1" fill="#ffff00"/><rect x="475" y="159" width="1" height="1" fill="#000000"/><rect x="475" y="162" width="1" height="1" fill="#000000"/><rect x="476" y="159" width="3" height="1" fill="#ffff00"/><rect x="476" y="162" width="3" height="1" fill="#ffff00"/><rect x="479" y="159" width="1" height="4" fill="#000000"/><rect x="488" y="159" width="1" height="4" fill="#000000"/><rect x="489" y="159" width="3" height="1" fill="#ffff00"/><rect x="489" y="162" width="3" height="1" fill="#ffff00"/><rect x="492" y="159" width="1" height="1" fill="#000000"/><rect x="492" y="162" width="1" height="1" fill="#000000"/><rect x="493" y="159" width="3" height="1" fill="#ffff00"/><rect x="493" y="162" width="3" height="1" fill="#ffff00"/><rect x="496" y="159" width="1" height="4" fill="#000000"/><rect x="505" y="159" width="1" height="4" fill="#000000"/><rect x="506" y="159" width="3" height="1" fill="#ffff00"/><rect x="506" y="162" width="3" height="1" fill="#ffff00"/><rect x="509" y="159" width="1" height="1" fill="#000000"/><rect x="509" y="162" width="1" height="1" fill="#000000"/><rect x="510" y="159" width="3" height="1" fill="#ffff00"/><rect x="510" y="162" width="3" height="1" fill="#ffff00"/><rect x="513" y="159" width="1" height="4" fill="#000000"/><rect x="522" y="159" width="1" height="4" fill="#000000"/><rect x="523" y="159" width="3" height="1" fill="#ffff00"/><rect x="523" y="162" width="3" height="1" fill="#ffff00"/><rect x="526" y="159" width="1" height="1" fill="#000000"/><rect x="526" y="162" width="1" height="1" fill="#000000"/><rect x="527" y="159" width="3" height="1" fill="#ffff00"/><rect x="527" y="162" width="3" height="1" fill="#ffff00"/><rect x="530" y="159" width="1" height="4" fill="#000000"/><rect x="472" y="160" width="2" height="2" fill="#ffff00"/><rect x="474" y="160" width="3" height="2" fill="#000000"/><rect x="477" y="160" width="2" height="2" fill="#ffff00"/><rect x="489" y="160" width="2" height="2" fill="#ffff00"/><rect x="491" y="160" width="3" height="2" fill="#000000"/><rect x="494" y="160" width="2" height="2" fill="#ffff00"/><rect x="506" y="160" width="2" height="2" fill="#ffff00"/><rect x="508" y="160" width="3" height="2" fill="#000000"/><rect x="511" y="160" width="2" height="2" fill="#ffff00"/><rect x="523" y="160" width="2" height="2" fill="#ffff00"/><rect x="525" y="160" width="3" height="2" fill="#000000"/><rect x="528" y="160" width="2" height="2" fill="#ffff00"/><rect x="473" y="157" width="5" height="1" fill="#000000"/><rect x="490" y="157" width="5" height="1" fill="#000000"/><rect x="507" y="157" width="5" height="1" fill="#000000"/><rect x="524" y="157" width="5" height="1" fill="#000000"/><rect x="235" y="268" width="1" height="54" fill="#808080"/><rect x="236" y="268" width="1" height="54" fill="#ffffff"/><rect x="237" y="268" width="1" height="54" fill="#d4d0c8"/><rect x="238" y="268" width="1" height="54" fill="#808080"/><rect x="239" y="252" width="1" height="1" fill="#000000"/><rect x="239" y="256" width="1" height="1" fill="#000000"/><rect x="239" y="259" width="1" height="2" fill="#000000"/><rect x="239" y="263" width="1" height="2" fill="#000000"/><rect x="239" y="268" width="1" height="54" fill="#000000"/><rect x="239" y="329" width="1" height="1" fill="#000000"/><rect x="239" y="331" width="1" height="1" fill="#000000"/><rect x="239" y="334" width="1" height="1" fill="#000000"/><rect x="685" y="188" width="1" height="260" fill="#808080"/><rect x="686" y="189" width="1" height="260" fill="#ffffff"/><rect x="687" y="190" width="1" height="260" fill="#d4d0c8"/><rect x="688" y="191" width="1" height="260" fill="#808080"/><rect x="688" y="486" width="1" height="63" fill="#808080"/><rect x="689" y="192" width="1" height="260" fill="#000000"/><rect x="802" y="292" width="2" height="1" fill="#000000"/><rect x="802" y="298" width="2" height="1" fill="#000000"/><rect x="802" y="300" width="2" height="1" fill="#000000"/><rect x="804" y="292" width="1" height="1" fill="#ffffff"/><rect x="804" y="298" width="1" height="1" fill="#ffffff"/><rect x="804" y="300" width="1" height="1" fill="#ffffff"/><rect x="805" y="292" width="2" height="1" fill="#000000"/><rect x="805" y="298" width="2" height="1" fill="#000000"/><rect x="805" y="300" width="2" height="1" fill="#000000"/><rect x="803" y="293" width="3" height="1" fill="#ffffff"/><rect x="803" y="297" width="3" height="1" fill="#ffffff"/><rect x="803" y="301" width="3" height="1" fill="#ffffff"/><rect x="803" y="304" width="3" height="2" fill="#ffffff"/><rect x="802" y="294" width="5" height="3" fill="#ffffff"/><rect x="802" y="302" width="5" height="2" fill="#ffffff"/><rect x="235" y="322" width="5" height="1" fill="#000000"/><rect x="234" y="253" width="1" height="3" fill="#000000"/><rect x="234" y="261" width="1" height="2" fill="#000000"/><rect x="234" y="323" width="1" height="1" fill="#000000"/><rect x="234" y="328" width="1" height="1" fill="#000000"/><rect x="235" y="323" width="5" height="1" fill="#ffff00"/><rect x="235" y="328" width="5" height="1" fill="#ffff00"/><rect x="240" y="253" width="1" height="3" fill="#000000"/><rect x="240" y="261" width="1" height="2" fill="#000000"/><rect x="240" y="323" width="1" height="1" fill="#000000"/><rect x="240" y="328" width="1" height="1" fill="#000000"/><rect x="233" y="324" width="1" height="4" fill="#000000"/><rect x="234" y="324" width="3" height="1" fill="#ffff00"/><rect x="234" y="327" width="3" height="1" fill="#ffff00"/><rect x="237" y="250" width="1" height="1" fill="#000000"/><rect x="237" y="324" width="1" height="1" fill="#000000"/><rect x="237" y="327" width="1" height="1" fill="#000000"/><rect x="238" y="324" width="3" height="1" fill="#ffff00"/><rect x="238" y="327" width="3" height="1" fill="#ffff00"/><rect x="241" y="324" width="1" height="4" fill="#000000"/><rect x="234" y="325" width="2" height="2" fill="#ffff00"/><rect x="236" y="258" width="3" height="1" fill="#000000"/><rect x="236" y="265" width="3" height="1" fill="#000000"/><rect x="236" y="267" width="3" height="1" fill="#000000"/><rect x="236" y="325" width="3" height="2" fill="#000000"/><rect x="239" y="325" width="2" height="2" fill="#ffff00"/><rect x="235" y="252" width="1" height="1" fill="#000000"/><rect x="235" y="256" width="1" height="1" fill="#000000"/><rect x="235" y="259" width="1" height="2" fill="#000000"/><rect x="235" y="263" width="1" height="2" fill="#000000"/><rect x="235" y="329" width="1" height="1" fill="#000000"/><rect x="236" y="329" width="3" height="1" fill="#ffff00"/><rect x="236" y="330" width="1" height="7" fill="#000000"/><rect x="237" y="330" width="1" height="1" fill="#ffff00"/><rect x="237" y="333" width="1" height="1" fill="#ffff00"/><rect x="237" y="336" width="1" height="1" fill="#ffff00"/><rect x="238" y="330" width="1" height="1" fill="#000000"/><rect x="238" y="333" width="1" height="1" fill="#000000"/><rect x="238" y="336" width="1" height="1" fill="#000000"/><rect x="237" y="331" width="2" height="2" fill="#ffff00"/><rect x="237" y="334" width="2" height="2" fill="#ffff00"/><rect x="239" y="332" width="2" height="1" fill="#000000"/><rect x="239" y="335" width="2" height="1" fill="#000000"/><rect x="235" y="251" width="2" height="1" fill="#000000"/><rect x="235" y="257" width="2" height="1" fill="#000000"/><rect x="238" y="251" width="2" height="1" fill="#000000"/><rect x="238" y="257" width="2" height="1" fill="#000000"/><rect x="334" y="433" width="1" height="1" fill="#000000"/><rect x="342" y="433" width="1" height="1" fill="#000000"/><rect x="349" y="432" width="1" height="3" fill="#000000"/><rect x="351" y="433" width="59" height="2" fill="#000000"/><rect x="410" y="433" width="2" height="1" fill="#ffff00"/><rect x="412" y="433" width="2" height="1" fill="#000000"/><rect x="412" y="470" width="2" height="1" fill="#000000"/><rect x="412" y="476" width="2" height="1" fill="#000000"/><rect x="412" y="487" width="2" height="1" fill="#000000"/><rect x="412" y="493" width="2" height="1" fill="#000000"/><rect x="414" y="433" width="10" height="1" fill="#ffff00"/><rect x="618" y="433" width="10" height="1" fill="#ffff00"/><rect x="618" y="450" width="10" height="1" fill="#ffff00"/><rect x="618" y="467" width="10" height="1" fill="#ffff00"/><rect x="618" y="484" width="10" height="1" fill="#ffff00"/><rect x="628" y="433" width="2" height="1" fill="#000000"/><rect x="628" y="450" width="2" height="1" fill="#000000"/><rect x="628" y="467" width="2" height="1" fill="#000000"/><rect x="628" y="484" width="2" height="1" fill="#000000"/><rect x="628" y="498" width="2" height="1" fill="#000000"/><rect x="628" y="504" width="2" height="1" fill="#000000"/><rect x="628" y="515" width="2" height="1" fill="#000000"/><rect x="628" y="521" width="2" height="1" fill="#000000"/><rect x="630" y="433" width="2" height="1" fill="#ffff00"/><rect x="630" y="450" width="2" height="1" fill="#ffff00"/><rect x="630" y="467" width="2" height="1" fill="#ffff00"/><rect x="630" y="484" width="2" height="1" fill="#ffff00"/><rect x="632" y="432" width="2" height="3" fill="#000000"/><rect x="632" y="449" width="2" height="3" fill="#000000"/><rect x="632" y="466" width="2" height="3" fill="#000000"/><rect x="632" y="483" width="2" height="3" fill="#000000"/><rect x="632" y="500" width="2" height="3" fill="#000000"/><rect x="632" y="517" width="2" height="3" fill="#000000"/><rect x="634" y="433" width="40" height="1" fill="#d4d0c8"/><rect x="335" y="431" width="2" height="1" fill="#000000"/><rect x="335" y="435" width="2" height="1" fill="#000000"/><rect x="340" y="431" width="2" height="1" fill="#000000"/><rect x="340" y="435" width="2" height="1" fill="#000000"/><rect x="343" y="431" width="2" height="1" fill="#000000"/><rect x="343" y="435" width="2" height="1" fill="#000000"/><rect x="347" y="431" width="2" height="1" fill="#000000"/><rect x="347" y="435" width="2" height="1" fill="#000000"/><rect x="352" y="431" width="56" height="1" fill="#000000"/><rect x="352" y="435" width="56" height="1" fill="#000000"/><rect x="409" y="431" width="1" height="1" fill="#000000"/><rect x="409" y="435" width="1" height="1" fill="#000000"/><rect x="410" y="431" width="6" height="1" fill="#ffff00"/><rect x="410" y="435" width="6" height="1" fill="#ffff00"/><rect x="416" y="431" width="1" height="1" fill="#000000"/><rect x="416" y="435" width="1" height="1" fill="#000000"/><rect x="416" y="473" width="1" height="1" fill="#000000"/><rect x="416" y="490" width="1" height="1" fill="#000000"/><rect x="625" y="431" width="1" height="1" fill="#000000"/><rect x="625" y="435" width="1" height="1" fill="#000000"/><rect x="625" y="448" width="1" height="1" fill="#000000"/><rect x="625" y="452" width="1" height="1" fill="#000000"/><rect x="625" y="465" width="1" height="1" fill="#000000"/><rect x="625" y="469" width="1" height="1" fill="#000000"/><rect x="625" y="482" width="1" height="1" fill="#000000"/><rect x="625" y="486" width="1" height="1" fill="#000000"/><rect x="625" y="501" width="1" height="1" fill="#000000"/><rect x="625" y="518" width="1" height="1" fill="#000000"/><rect x="626" y="431" width="6" height="1" fill="#ffff00"/><rect x="626" y="435" width="6" height="1" fill="#ffff00"/><rect x="626" y="448" width="6" height="1" fill="#ffff00"/><rect x="626" y="452" width="6" height="1" fill="#ffff00"/><rect x="626" y="465" width="6" height="1" fill="#ffff00"/><rect x="626" y="469" width="6" height="1" fill="#ffff00"/><rect x="626" y="482" width="6" height="1" fill="#ffff00"/><rect x="626" y="486" width="6" height="1" fill="#ffff00"/><rect x="632" y="431" width="1" height="1" fill="#000000"/><rect x="632" y="435" width="1" height="1" fill="#000000"/><rect x="632" y="448" width="1" height="1" fill="#000000"/><rect x="632" y="452" width="1" height="1" fill="#000000"/><rect x="632" y="465" width="1" height="1" fill="#000000"/><rect x="632" y="469" width="1" height="1" fill="#000000"/><rect x="632" y="482" width="1" height="1" fill="#000000"/><rect x="632" y="486" width="1" height="1" fill="#000000"/><rect x="634" y="431" width="38" height="1" fill="#808080"/><rect x="335" y="432" width="1" height="1" fill="#000000"/><rect x="335" y="434" width="1" height="1" fill="#000000"/><rect x="341" y="432" width="2" height="1" fill="#000000"/><rect x="341" y="434" width="2" height="1" fill="#000000"/><rect x="351" y="432" width="2" height="1" fill="#000000"/><rect x="353" y="432" width="55" height="1" fill="#d4d0c8"/><rect x="408" y="432" width="2" height="1" fill="#000000"/><rect x="408" y="472" width="2" height="3" fill="#000000"/><rect x="408" y="489" width="2" height="3" fill="#000000"/><rect x="410" y="432" width="7" height="1" fill="#ffff00"/><rect x="410" y="434" width="7" height="1" fill="#ffff00"/><rect x="417" y="432" width="7" height="1" fill="#000000"/><rect x="618" y="432" width="7" height="1" fill="#000000"/><rect x="618" y="449" width="7" height="1" fill="#000000"/><rect x="618" y="466" width="7" height="1" fill="#000000"/><rect x="618" y="483" width="7" height="1" fill="#000000"/><rect x="625" y="432" width="7" height="1" fill="#ffff00"/><rect x="625" y="434" width="7" height="1" fill="#ffff00"/><rect x="625" y="449" width="7" height="1" fill="#ffff00"/><rect x="625" y="451" width="7" height="1" fill="#ffff00"/><rect x="625" y="466" width="7" height="1" fill="#ffff00"/><rect x="625" y="468" width="7" height="1" fill="#ffff00"/><rect x="625" y="483" width="7" height="1" fill="#ffff00"/><rect x="625" y="485" width="7" height="1" fill="#ffff00"/><rect x="634" y="432" width="39" height="1" fill="#ffffff"/><rect x="417" y="434" width="1" height="1" fill="#000000"/><rect x="417" y="472" width="1" height="1" fill="#000000"/><rect x="417" y="474" width="1" height="1" fill="#000000"/><rect x="417" y="489" width="1" height="1" fill="#000000"/><rect x="417" y="491" width="1" height="1" fill="#000000"/><rect x="418" y="434" width="2" height="1" fill="#ffff00"/><rect x="420" y="434" width="1" height="1" fill="#000000"/><rect x="421" y="434" width="1" height="1" fill="#ffff00"/><rect x="422" y="434" width="2" height="1" fill="#000000"/><rect x="422" y="471" width="2" height="1" fill="#000000"/><rect x="422" y="475" width="2" height="1" fill="#000000"/><rect x="422" y="488" width="2" height="1" fill="#000000"/><rect x="422" y="492" width="2" height="1" fill="#000000"/><rect x="618" y="434" width="2" height="1" fill="#000000"/><rect x="618" y="451" width="2" height="1" fill="#000000"/><rect x="618" y="468" width="2" height="1" fill="#000000"/><rect x="618" y="485" width="2" height="1" fill="#000000"/><rect x="618" y="499" width="2" height="1" fill="#000000"/><rect x="618" y="503" width="2" height="1" fill="#000000"/><rect x="618" y="516" width="2" height="1" fill="#000000"/><rect x="618" y="520" width="2" height="1" fill="#000000"/><rect x="620" y="434" width="1" height="1" fill="#ffff00"/><rect x="620" y="451" width="1" height="1" fill="#ffff00"/><rect x="620" y="468" width="1" height="1" fill="#ffff00"/><rect x="620" y="485" width="1" height="1" fill="#ffff00"/><rect x="621" y="434" width="1" height="1" fill="#000000"/><rect x="621" y="451" width="1" height="1" fill="#000000"/><rect x="621" y="468" width="1" height="1" fill="#000000"/><rect x="621" y="485" width="1" height="1" fill="#000000"/><rect x="622" y="434" width="2" height="1" fill="#ffff00"/><rect x="622" y="451" width="2" height="1" fill="#ffff00"/><rect x="622" y="468" width="2" height="1" fill="#ffff00"/><rect x="622" y="485" width="2" height="1" fill="#ffff00"/><rect x="624" y="434" width="1" height="1" fill="#000000"/><rect x="624" y="451" width="1" height="1" fill="#000000"/><rect x="624" y="468" width="1" height="1" fill="#000000"/><rect x="624" y="485" width="1" height="1" fill="#000000"/><rect x="624" y="500" width="1" height="1" fill="#000000"/><rect x="624" y="502" width="1" height="1" fill="#000000"/><rect x="624" y="517" width="1" height="1" fill="#000000"/><rect x="624" y="519" width="1" height="1" fill="#000000"/><rect x="634" y="434" width="41" height="1" fill="#808080"/><rect x="418" y="435" width="1" height="1" fill="#000000"/><rect x="419" y="435" width="1" height="1" fill="#ffff00"/><rect x="421" y="435" width="1" height="2" fill="#000000"/><rect x="620" y="435" width="1" height="2" fill="#000000"/><rect x="620" y="452" width="1" height="2" fill="#000000"/><rect x="620" y="469" width="1" height="2" fill="#000000"/><rect x="620" y="486" width="1" height="2" fill="#000000"/><rect x="622" y="435" width="1" height="1" fill="#ffff00"/><rect x="622" y="452" width="1" height="1" fill="#ffff00"/><rect x="622" y="469" width="1" height="1" fill="#ffff00"/><rect x="622" y="486" width="1" height="1" fill="#ffff00"/><rect x="623" y="435" width="1" height="1" fill="#000000"/><rect x="623" y="452" width="1" height="1" fill="#000000"/><rect x="623" y="469" width="1" height="1" fill="#000000"/><rect x="623" y="486" width="1" height="1" fill="#000000"/><rect x="634" y="435" width="42" height="1" fill="#000000"/><rect x="337" y="430" width="3" height="1" fill="#000000"/><rect x="337" y="436" width="3" height="1" fill="#000000"/><rect x="345" y="430" width="2" height="1" fill="#000000"/><rect x="345" y="436" width="2" height="1" fill="#000000"/><rect x="410" y="430" width="1" height="1" fill="#000000"/><rect x="410" y="436" width="1" height="1" fill="#000000"/><rect x="411" y="430" width="4" height="1" fill="#ffff00"/><rect x="411" y="436" width="4" height="1" fill="#ffff00"/><rect x="415" y="430" width="1" height="1" fill="#000000"/><rect x="415" y="436" width="1" height="1" fill="#000000"/><rect x="415" y="472" width="1" height="1" fill="#000000"/><rect x="415" y="474" width="1" height="1" fill="#000000"/><rect x="415" y="489" width="1" height="1" fill="#000000"/><rect x="415" y="491" width="1" height="1" fill="#000000"/><rect x="626" y="430" width="1" height="1" fill="#000000"/><rect x="626" y="436" width="1" height="1" fill="#000000"/><rect x="626" y="447" width="1" height="1" fill="#000000"/><rect x="626" y="453" width="1" height="1" fill="#000000"/><rect x="626" y="464" width="1" height="1" fill="#000000"/><rect x="626" y="470" width="1" height="1" fill="#000000"/><rect x="626" y="481" width="1" height="1" fill="#000000"/><rect x="626" y="487" width="1" height="1" fill="#000000"/><rect x="626" y="500" width="1" height="1" fill="#000000"/><rect x="626" y="502" width="1" height="1" fill="#000000"/><rect x="626" y="517" width="1" height="1" fill="#000000"/><rect x="626" y="519" width="1" height="1" fill="#000000"/><rect x="627" y="430" width="4" height="1" fill="#ffff00"/><rect x="627" y="436" width="4" height="1" fill="#ffff00"/><rect x="627" y="447" width="4" height="1" fill="#ffff00"/><rect x="627" y="453" width="4" height="1" fill="#ffff00"/><rect x="627" y="464" width="4" height="1" fill="#ffff00"/><rect x="627" y="470" width="4" height="1" fill="#ffff00"/><rect x="627" y="481" width="4" height="1" fill="#ffff00"/><rect x="627" y="487" width="4" height="1" fill="#ffff00"/><rect x="631" y="430" width="1" height="1" fill="#000000"/><rect x="631" y="436" width="1" height="1" fill="#000000"/><rect x="631" y="447" width="1" height="1" fill="#000000"/><rect x="631" y="453" width="1" height="1" fill="#000000"/><rect x="631" y="464" width="1" height="1" fill="#000000"/><rect x="631" y="470" width="1" height="1" fill="#000000"/><rect x="631" y="481" width="1" height="1" fill="#000000"/><rect x="631" y="487" width="1" height="1" fill="#000000"/><rect x="419" y="436" width="1" height="1" fill="#000000"/><rect x="622" y="436" width="1" height="1" fill="#000000"/><rect x="622" y="453" width="1" height="1" fill="#000000"/><rect x="622" y="470" width="1" height="1" fill="#000000"/><rect x="622" y="487" width="1" height="1" fill="#000000"/><rect x="411" y="429" width="4" height="1" fill="#000000"/><rect x="411" y="437" width="4" height="1" fill="#000000"/><rect x="627" y="429" width="4" height="1" fill="#000000"/><rect x="627" y="437" width="4" height="1" fill="#000000"/><rect x="627" y="446" width="4" height="1" fill="#000000"/><rect x="627" y="454" width="4" height="1" fill="#000000"/><rect x="627" y="463" width="4" height="1" fill="#000000"/><rect x="627" y="471" width="4" height="1" fill="#000000"/><rect x="627" y="480" width="4" height="1" fill="#000000"/><rect x="627" y="488" width="4" height="1" fill="#000000"/><rect x="353" y="471" width="55" height="1" fill="#808080"/><rect x="410" y="471" width="2" height="1" fill="#000000"/><rect x="410" y="475" width="2" height="1" fill="#000000"/><rect x="410" y="488" width="2" height="1" fill="#000000"/><rect x="410" y="492" width="2" height="1" fill="#000000"/><rect x="412" y="471" width="2" height="1" fill="#ffffff"/><rect x="412" y="475" width="2" height="1" fill="#ffffff"/><rect x="412" y="488" width="2" height="1" fill="#ffffff"/><rect x="412" y="492" width="2" height="1" fill="#ffffff"/><rect x="414" y="471" width="2" height="1" fill="#000000"/><rect x="414" y="475" width="2" height="1" fill="#000000"/><rect x="414" y="488" width="2" height="1" fill="#000000"/><rect x="414" y="492" width="2" height="1" fill="#000000"/><rect x="417" y="471" width="2" height="1" fill="#000000"/><rect x="417" y="475" width="2" height="1" fill="#000000"/><rect x="417" y="488" width="2" height="1" fill="#000000"/><rect x="417" y="492" width="2" height="1" fill="#000000"/><rect x="419" y="471" width="3" height="1" fill="#ffffff"/><rect x="419" y="475" width="3" height="1" fill="#ffffff"/><rect x="419" y="488" width="3" height="1" fill="#ffffff"/><rect x="419" y="492" width="3" height="1" fill="#ffffff"/><rect x="700" y="469" width="1" height="63" fill="#808080"/><rect x="701" y="468" width="1" height="63" fill="#ffffff"/><rect x="702" y="468" width="1" height="61" fill="#d4d0c8"/><rect x="703" y="466" width="1" height="63" fill="#808080"/><rect x="704" y="465" width="1" height="63" fill="#000000"/><rect x="353" y="472" width="1" height="146" fill="#808080"/><rect x="354" y="472" width="54" height="1" fill="#ffffff"/><rect x="410" y="472" width="5" height="1" fill="#ffffff"/><rect x="410" y="474" width="5" height="1" fill="#ffffff"/><rect x="410" y="489" width="5" height="1" fill="#ffffff"/><rect x="410" y="491" width="5" height="1" fill="#ffffff"/><rect x="418" y="472" width="5" height="1" fill="#ffffff"/><rect x="418" y="474" width="5" height="1" fill="#ffffff"/><rect x="418" y="489" width="5" height="1" fill="#ffffff"/><rect x="418" y="491" width="5" height="1" fill="#ffffff"/><rect x="423" y="472" width="1" height="1" fill="#000000"/><rect x="423" y="474" width="1" height="1" fill="#000000"/><rect x="423" y="489" width="1" height="1" fill="#000000"/><rect x="423" y="491" width="1" height="1" fill="#000000"/><rect x="354" y="473" width="1" height="145" fill="#ffffff"/><rect x="355" y="473" width="53" height="1" fill="#d4d0c8"/><rect x="410" y="473" width="6" height="1" fill="#ffffff"/><rect x="410" y="490" width="6" height="1" fill="#ffffff"/><rect x="417" y="473" width="7" height="1" fill="#ffffff"/><rect x="417" y="490" width="7" height="1" fill="#ffffff"/><rect x="355" y="474" width="1" height="144" fill="#d4d0c8"/><rect x="356" y="474" width="52" height="1" fill="#808080"/><rect x="356" y="475" width="1" height="143" fill="#808080"/><rect x="357" y="475" width="51" height="1" fill="#000000"/><rect x="357" y="476" width="1" height="142" fill="#000000"/><rect x="419" y="470" width="3" height="1" fill="#000000"/><rect x="419" y="476" width="3" height="1" fill="#000000"/><rect x="419" y="487" width="3" height="1" fill="#000000"/><rect x="419" y="493" width="3" height="1" fill="#000000"/><rect x="634" y="482" width="58" height="1" fill="#808080"/><rect x="692" y="482" width="1" height="63" fill="#000000"/><rect x="634" y="483" width="57" height="1" fill="#ffffff"/><rect x="691" y="483" width="1" height="63" fill="#808080"/><rect x="634" y="484" width="57" height="1" fill="#d4d0c8"/><rect x="634" y="451" width="55" height="1" fill="#808080"/><rect x="634" y="485" width="55" height="1" fill="#808080"/><rect x="689" y="485" width="1" height="63" fill="#ffffff"/><rect x="690" y="485" width="1" height="61" fill="#d4d0c8"/><rect x="634" y="486" width="54" height="1" fill="#000000"/><rect x="372" y="488" width="36" height="1" fill="#808080"/><rect x="372" y="489" width="1" height="129" fill="#808080"/><rect x="373" y="489" width="35" height="1" fill="#ffffff"/><rect x="373" y="490" width="1" height="128" fill="#ffffff"/><rect x="374" y="490" width="34" height="1" fill="#d4d0c8"/><rect x="374" y="491" width="1" height="127" fill="#d4d0c8"/><rect x="375" y="491" width="33" height="1" fill="#808080"/><rect x="375" y="492" width="1" height="126" fill="#808080"/><rect x="376" y="492" width="32" height="1" fill="#000000"/><rect x="376" y="493" width="1" height="125" fill="#000000"/><rect x="620" y="498" width="3" height="1" fill="#000000"/><rect x="620" y="504" width="3" height="1" fill="#000000"/><rect x="620" y="515" width="3" height="1" fill="#000000"/><rect x="620" y="521" width="3" height="1" fill="#000000"/><rect x="620" y="499" width="3" height="1" fill="#ffffff"/><rect x="620" y="503" width="3" height="1" fill="#ffffff"/><rect x="620" y="516" width="3" height="1" fill="#ffffff"/><rect x="620" y="520" width="3" height="1" fill="#ffffff"/><rect x="623" y="499" width="2" height="1" fill="#000000"/><rect x="623" y="503" width="2" height="1" fill="#000000"/><rect x="623" y="516" width="2" height="1" fill="#000000"/><rect x="623" y="520" width="2" height="1" fill="#000000"/><rect x="626" y="499" width="2" height="1" fill="#000000"/><rect x="626" y="503" width="2" height="1" fill="#000000"/><rect x="626" y="516" width="2" height="1" fill="#000000"/><rect x="626" y="520" width="2" height="1" fill="#000000"/><rect x="628" y="499" width="2" height="1" fill="#ffffff"/><rect x="628" y="503" width="2" height="1" fill="#ffffff"/><rect x="628" y="516" width="2" height="1" fill="#ffffff"/><rect x="628" y="520" width="2" height="1" fill="#ffffff"/><rect x="630" y="499" width="2" height="1" fill="#000000"/><rect x="630" y="503" width="2" height="1" fill="#000000"/><rect x="630" y="516" width="2" height="1" fill="#000000"/><rect x="630" y="520" width="2" height="1" fill="#000000"/><rect x="634" y="499" width="47" height="1" fill="#808080"/><rect x="681" y="499" width="1" height="119" fill="#000000"/><rect x="618" y="500" width="1" height="1" fill="#000000"/><rect x="618" y="502" width="1" height="1" fill="#000000"/><rect x="618" y="517" width="1" height="1" fill="#000000"/><rect x="618" y="519" width="1" height="1" fill="#000000"/><rect x="619" y="500" width="5" height="1" fill="#ffffff"/><rect x="619" y="502" width="5" height="1" fill="#ffffff"/><rect x="619" y="517" width="5" height="1" fill="#ffffff"/><rect x="619" y="519" width="5" height="1" fill="#ffffff"/><rect x="627" y="500" width="5" height="1" fill="#ffffff"/><rect x="627" y="502" width="5" height="1" fill="#ffffff"/><rect x="627" y="517" width="5" height="1" fill="#ffffff"/><rect x="627" y="519" width="5" height="1" fill="#ffffff"/><rect x="634" y="500" width="46" height="1" fill="#ffffff"/><rect x="680" y="500" width="1" height="118" fill="#808080"/><rect x="618" y="501" width="7" height="1" fill="#ffffff"/><rect x="618" y="518" width="7" height="1" fill="#ffffff"/><rect x="626" y="501" width="6" height="1" fill="#ffffff"/><rect x="626" y="518" width="6" height="1" fill="#ffffff"/><rect x="634" y="501" width="46" height="1" fill="#d4d0c8"/><rect x="634" y="502" width="44" height="1" fill="#808080"/><rect x="678" y="502" width="1" height="116" fill="#ffffff"/><rect x="679" y="502" width="1" height="116" fill="#d4d0c8"/><rect x="634" y="503" width="43" height="1" fill="#000000"/><rect x="677" y="503" width="1" height="115" fill="#808080"/><rect x="634" y="516" width="34" height="1" fill="#808080"/><rect x="668" y="516" width="1" height="102" fill="#000000"/><rect x="634" y="517" width="33" height="1" fill="#ffffff"/><rect x="667" y="517" width="1" height="101" fill="#808080"/><rect x="634" y="518" width="33" height="1" fill="#d4d0c8"/><rect x="634" y="519" width="31" height="1" fill="#808080"/><rect x="665" y="519" width="1" height="99" fill="#ffffff"/><rect x="666" y="519" width="1" height="99" fill="#d4d0c8"/><rect x="634" y="520" width="30" height="1" fill="#000000"/><rect x="664" y="520" width="1" height="98" fill="#808080"/><rect x="712" y="526" width="2" height="1" fill="#000000"/><rect x="712" y="532" width="2" height="1" fill="#000000"/><rect x="712" y="543" width="2" height="1" fill="#000000"/><rect x="712" y="549" width="2" height="1" fill="#000000"/><rect x="719" y="526" width="3" height="1" fill="#000000"/><rect x="719" y="532" width="3" height="1" fill="#000000"/><rect x="719" y="543" width="3" height="1" fill="#000000"/><rect x="719" y="549" width="3" height="1" fill="#000000"/><rect x="705" y="527" width="3" height="1" fill="#808080"/><rect x="710" y="527" width="2" height="1" fill="#000000"/><rect x="710" y="531" width="2" height="1" fill="#000000"/><rect x="710" y="544" width="2" height="1" fill="#000000"/><rect x="710" y="548" width="2" height="1" fill="#000000"/><rect x="712" y="527" width="2" height="1" fill="#ffffff"/><rect x="712" y="531" width="2" height="1" fill="#ffffff"/><rect x="712" y="544" width="2" height="1" fill="#ffffff"/><rect x="712" y="548" width="2" height="1" fill="#ffffff"/><rect x="714" y="527" width="2" height="1" fill="#000000"/><rect x="714" y="531" width="2" height="1" fill="#000000"/><rect x="714" y="544" width="2" height="1" fill="#000000"/><rect x="714" y="548" width="2" height="1" fill="#000000"/><rect x="717" y="527" width="2" height="1" fill="#000000"/><rect x="717" y="531" width="2" height="1" fill="#000000"/><rect x="717" y="544" width="2" height="1" fill="#000000"/><rect x="717" y="548" width="2" height="1" fill="#000000"/><rect x="719" y="527" width="3" height="1" fill="#ffffff"/><rect x="719" y="531" width="3" height="1" fill="#ffffff"/><rect x="719" y="544" width="3" height="1" fill="#ffffff"/><rect x="719" y="548" width="3" height="1" fill="#ffffff"/><rect x="722" y="527" width="2" height="1" fill="#000000"/><rect x="722" y="531" width="2" height="1" fill="#000000"/><rect x="722" y="544" width="2" height="1" fill="#000000"/><rect x="722" y="548" width="2" height="1" fill="#000000"/><rect x="704" y="528" width="4" height="1" fill="#ffffff"/><rect x="708" y="528" width="2" height="3" fill="#000000"/><rect x="708" y="545" width="2" height="3" fill="#000000"/><rect x="710" y="528" width="5" height="1" fill="#ffffff"/><rect x="710" y="530" width="5" height="1" fill="#ffffff"/><rect x="710" y="545" width="5" height="1" fill="#ffffff"/><rect x="710" y="547" width="5" height="1" fill="#ffffff"/><rect x="715" y="528" width="1" height="1" fill="#000000"/><rect x="715" y="530" width="1" height="1" fill="#000000"/><rect x="715" y="545" width="1" height="1" fill="#000000"/><rect x="715" y="547" width="1" height="1" fill="#000000"/><rect x="717" y="528" width="1" height="1" fill="#000000"/><rect x="717" y="530" width="1" height="1" fill="#000000"/><rect x="717" y="545" width="1" height="1" fill="#000000"/><rect x="717" y="547" width="1" height="1" fill="#000000"/><rect x="718" y="528" width="5" height="1" fill="#ffffff"/><rect x="718" y="530" width="5" height="1" fill="#ffffff"/><rect x="718" y="545" width="5" height="1" fill="#ffffff"/><rect x="718" y="547" width="5" height="1" fill="#ffffff"/><rect x="723" y="528" width="1" height="1" fill="#000000"/><rect x="723" y="530" width="1" height="1" fill="#000000"/><rect x="723" y="545" width="1" height="1" fill="#000000"/><rect x="723" y="547" width="1" height="1" fill="#000000"/><rect x="702" y="529" width="6" height="1" fill="#d4d0c8"/><rect x="710" y="529" width="6" height="1" fill="#ffffff"/><rect x="710" y="546" width="6" height="1" fill="#ffffff"/><rect x="716" y="529" width="1" height="1" fill="#000000"/><rect x="716" y="546" width="1" height="1" fill="#000000"/><rect x="717" y="529" width="7" height="1" fill="#ffffff"/><rect x="717" y="546" width="7" height="1" fill="#ffffff"/><rect x="702" y="530" width="6" height="1" fill="#808080"/><rect x="701" y="531" width="7" height="1" fill="#000000"/><rect x="693" y="544" width="15" height="1" fill="#808080"/><rect x="692" y="545" width="16" height="1" fill="#ffffff"/><rect x="690" y="546" width="18" height="1" fill="#d4d0c8"/><rect x="690" y="547" width="18" height="1" fill="#808080"/><rect x="689" y="548" width="19" height="1" fill="#000000"/><rect x="695" y="186" width="2" height="1" fill="#000000"/><rect x="695" y="192" width="2" height="1" fill="#000000"/><rect x="702" y="186" width="3" height="1" fill="#000000"/><rect x="702" y="192" width="3" height="1" fill="#000000"/><rect x="685" y="187" width="6" height="1" fill="#808080"/><rect x="693" y="187" width="2" height="1" fill="#000000"/><rect x="693" y="191" width="2" height="1" fill="#000000"/><rect x="695" y="187" width="2" height="1" fill="#ffffff"/><rect x="695" y="191" width="2" height="1" fill="#ffffff"/><rect x="697" y="187" width="2" height="1" fill="#000000"/><rect x="697" y="191" width="2" height="1" fill="#000000"/><rect x="700" y="187" width="2" height="1" fill="#000000"/><rect x="700" y="191" width="2" height="1" fill="#000000"/><rect x="702" y="187" width="3" height="1" fill="#ffffff"/><rect x="702" y="191" width="3" height="1" fill="#ffffff"/><rect x="705" y="187" width="2" height="1" fill="#000000"/><rect x="705" y="191" width="2" height="1" fill="#000000"/><rect x="686" y="188" width="5" height="1" fill="#ffffff"/><rect x="691" y="188" width="2" height="3" fill="#000000"/><rect x="693" y="188" width="5" height="1" fill="#ffffff"/><rect x="693" y="190" width="5" height="1" fill="#ffffff"/><rect x="698" y="188" width="1" height="1" fill="#000000"/><rect x="698" y="190" width="1" height="1" fill="#000000"/><rect x="700" y="188" width="1" height="1" fill="#000000"/><rect x="700" y="190" width="1" height="1" fill="#000000"/><rect x="701" y="188" width="5" height="1" fill="#ffffff"/><rect x="701" y="190" width="5" height="1" fill="#ffffff"/><rect x="706" y="188" width="1" height="1" fill="#000000"/><rect x="706" y="190" width="1" height="1" fill="#000000"/><rect x="687" y="189" width="4" height="1" fill="#d4d0c8"/><rect x="693" y="189" width="6" height="1" fill="#ffffff"/><rect x="699" y="189" width="1" height="1" fill="#000000"/><rect x="700" y="189" width="7" height="1" fill="#ffffff"/><rect x="688" y="190" width="3" height="1" fill="#808080"/><rect x="689" y="191" width="2" height="1" fill="#000000"/><rect x="634" y="448" width="52" height="1" fill="#808080"/><rect x="634" y="449" width="53" height="1" fill="#ffffff"/><rect x="634" y="450" width="54" height="1" fill="#d4d0c8"/><rect x="634" y="452" width="56" height="1" fill="#000000"/><rect x="634" y="465" width="70" height="1" fill="#808080"/><rect x="634" y="466" width="69" height="1" fill="#ffffff"/><rect x="634" y="467" width="69" height="1" fill="#d4d0c8"/><rect x="634" y="468" width="67" height="1" fill="#808080"/><rect x="634" y="469" width="66" height="1" fill="#000000"/></svg></div></div><div class="a" style="left:24px;top:21px;width:934px;height:1px;background:#808080"></div><div class="a" style="left:23px;top:3px;width:935px;height:1px;background:#e6e3dd"></div><div class="a" style="left:23px;top:3px;width:1px;height:631px;background:#e6e3dd"></div><svg class="a" style="left:0;top:0" width="961" height="30" shape-rendering="crispEdges"><path d="M44 6h173v1h-173z M42 7h175v1h-175z M40 8h177v1h-177z M39 9h178v1h-178z M38 10h179v1h-179z M37 11h180v1h-180z M36 12h181v1h-181z M35 13h182v1h-182z M34 14h183v1h-183z M33 15h184v1h-184z M32 16h185v1h-185z M31 17h186v1h-186z M30 18h187v1h-187z M29 19h188v1h-188z M28 20h189v1h-189z M44 5h0z M25 21h192v1h-192z" fill="#fff"/><path d="M24 21h3v1h-3z M27 20h1v1h-1z M28 19h1v1h-1z M29 18h1v1h-1z M30 17h1v1h-1z M31 16h1v1h-1z M32 15h1v1h-1z M33 14h1v1h-1z M34 13h1v1h-1z M35 12h1v1h-1z M36 11h1v1h-1z M37 10h1v1h-1z M38 9h1v1h-1z M39 8h1v1h-1z M40 7h1v1h-1z M41 7h1v1h-1z M42 6h1v1h-1z M43 6h1v1h-1z M44 5h171v1h-171z M215 6h1v1h-1z M216 7h1v1h-1z M217 8h1v14h-1z" fill="#808080"/></svg><div class="a" style="left:41px;top:6px;font-size:11.7px;font-weight:bold;line-height:14px;white-space:nowrap">dbo.Diagram1: ...ress.ProjectX)</div><svg class="a" style="left:0;top:0" width="961" height="30" shape-rendering="crispEdges"><path d="M924 12h8v1h-8z M925 13h6v1h-6z M926 14h4v1h-4z M927 15h2v1h-2z" fill="#000"/></svg><svg class="a" style="left:0;top:0" width="961" height="30"><path d="M942 9.5 L950 16.5 M950 9.5 L942 16.5" stroke="#000" stroke-width="1.8"/></svg><div class="a" style="left:23px;top:22px;width:1px;height:612px;background:#e6e3dd"></div><svg class="a" style="left:0;top:0" width="961" height="656" shape-rendering="crispEdges"><defs><pattern id="ck" width="2" height="2" patternUnits="userSpaceOnUse"><rect width="2" height="2" fill="#fff"/><rect width="1" height="1" fill="#d4d0c8"/><rect x="1" y="1" width="1" height="1" fill="#d4d0c8"/></pattern></defs><rect x="942" y="22" width="16" height="596" fill="url(#ck)"/><rect x="24" y="618" width="934" height="16" fill="url(#ck)"/><rect x="958" y="22" width="1" height="613" fill="#e6e3dd"/><rect x="23" y="634" width="936" height="1" fill="#e6e3dd"/></svg><div class="a" style="left:942px;top:22px;width:16px;height:16px;background:#d4d0c8;box-shadow:inset -1px -1px 0 #404040, inset 1px 1px 0 #d4d0c8, inset -2px -2px 0 #808080, inset 2px 2px 0 #fff"></div><svg class="a" style="left:0;top:0" width="961" height="656" shape-rendering="crispEdges"><path d="M946 31h7v1h-7z M947 30h5v1h-5z M948 29h3v1h-3z M949 28h1v1h-1z" fill="#000"/></svg><div class="a" style="left:942px;top:268px;width:16px;height:110px;background:#d4d0c8;box-shadow:inset -1px -1px 0 #404040, inset 1px 1px 0 #d4d0c8, inset -2px -2px 0 #808080, inset 2px 2px 0 #fff"></div><div class="a" style="left:942px;top:602px;width:16px;height:16px;background:#d4d0c8;box-shadow:inset -1px -1px 0 #404040, inset 1px 1px 0 #d4d0c8, inset -2px -2px 0 #808080, inset 2px 2px 0 #fff"></div><svg class="a" style="left:0;top:0" width="961" height="656" shape-rendering="crispEdges"><path d="M946 608h7v1h-7z M947 609h5v1h-5z M948 610h3v1h-3z M949 611h1v1h-1z" fill="#000"/></svg><div class="a" style="left:24px;top:618px;width:16px;height:16px;background:#d4d0c8;box-shadow:inset -1px -1px 0 #404040, inset 1px 1px 0 #d4d0c8, inset -2px -2px 0 #808080, inset 2px 2px 0 #fff"></div><svg class="a" style="left:0;top:0" width="961" height="656" shape-rendering="crispEdges"><path d="M33 623h1v7h-1z M32 624h1v5h-1z M31 625h1v3h-1z M30 626h1v1h-1z" fill="#000"/></svg><div class="a" style="left:312px;top:618px;width:316px;height:16px;background:#d4d0c8;box-shadow:inset -1px -1px 0 #404040, inset 1px 1px 0 #d4d0c8, inset -2px -2px 0 #808080, inset 2px 2px 0 #fff"></div><div class="a" style="left:926px;top:618px;width:16px;height:16px;background:#d4d0c8;box-shadow:inset -1px -1px 0 #404040, inset 1px 1px 0 #d4d0c8, inset -2px -2px 0 #808080, inset 2px 2px 0 #fff"></div><svg class="a" style="left:0;top:0" width="961" height="656" shape-rendering="crispEdges"><path d="M932 623h1v7h-1z M933 624h1v5h-1z M934 625h1v3h-1z M935 626h1v1h-1z" fill="#000"/></svg><div class="a" style="left:942px;top:618px;width:16px;height:16px;background:#fff"></div><svg class="a" style="left:0;top:0" width="961" height="656"><rect x="949" y="621" width="2" height="10" fill="#000"/><rect x="945" y="625" width="10" height="2" fill="#000"/><path d="M946.5 622 L950 618.3 L953.5 622Z M946.5 630 L950 633.7 L953.5 630Z M946 622.5 L942.3 626 L946 629.5Z M954 622.5 L957.7 626 L954 629.5Z" fill="#000"/></svg><svg class="a" style="left:0;top:0" width="22" height="180" shape-rendering="crispEdges"><path d="M0 6h18v1h1v98h-1v1h-18z M0 107h18v1h1v60h-1v1h-18z" fill="#d4d0c8"/><path d="M0 5h18v1h-18z M18 6h1v1h-1z M19 7h1v98h-1z M18 105h1v1h-1z M0 106h18v1h-18z M18 107h1v1h-1z M19 108h1v60h-1z M18 168h1v1h-1z M0 169h18v1h-18z" fill="#808080"/></svg><div class="a" style="left:3px;top:27px;width:12px;height:80px;writing-mode:vertical-rl;font-size:11px;line-height:12px;white-space:nowrap">Server Explorer</div><div class="a" style="left:3px;top:128px;width:12px;height:40px;writing-mode:vertical-rl;font-size:11px;line-height:12px;white-space:nowrap">Toolbox</div><svg class="a" style="left:0;top:0" width="22" height="180" shape-rendering="crispEdges"><defs><linearGradient id="bl" x1="0" y1="0" x2="0" y2="1"><stop offset="0" stop-color="#6aa8ff"/><stop offset="1" stop-color="#1c4fd0"/></linearGradient></defs><rect x="6" y="8" width="5" height="9" fill="#56657a"/><rect x="7" y="9" width="3" height="8" fill="#eef2f6"/><rect x="8" y="10" width="1" height="1" fill="#40c040"/><rect x="8" y="11" width="1" height="1" fill="#f0b030"/><rect x="11" y="9" width="7" height="9" fill="#8ca8d8"/><rect x="12" y="10" width="5" height="7" fill="url(#bl)"/><rect x="3" y="13" width="5" height="11" fill="#3c4c64"/><rect x="4" y="14" width="3" height="9" fill="#eef2f6"/><rect x="5" y="15" width="1" height="1" fill="#40c040"/><rect x="5" y="16" width="1" height="1" fill="#f0b030"/><rect x="5" y="18" width="1" height="3" fill="#60708a"/><rect x="8" y="14" width="7" height="9" fill="#8ca8d8"/><rect x="9" y="15" width="5" height="7" fill="url(#bl)"/><rect x="8" y="21" width="1" height="1" fill="#40c040"/></svg><svg class="a" style="left:0;top:0" width="22" height="180"><path d="M3.5 110.5 L9 116" stroke="#c41a1a" stroke-width="2.4" stroke-linecap="round"/><path d="M3.5 121.5 L12 113" stroke="#3a4a70" stroke-width="2"/><path d="M4 121 L11.5 113.5" stroke="#ffffff" stroke-width="0.9" stroke-dasharray="1 1"/><path d="M9.5 117 L10.8 118.3" stroke="#e85040" stroke-width="1.6"/><path d="M12 109.5 Q11 112.5 13 113.5 Q15.5 113.8 16 111.5" stroke="#7890b8" stroke-width="1.6" fill="none"/><path d="M10 124 L14 120" stroke="#6880a8" stroke-width="2"/><path d="M11.5 118.5 Q15.5 119.5 16 115.5" stroke="#8aa0c8" stroke-width="2.6" fill="none"/></svg><div class="a" style="left:8px;top:640px;font-size:11px;line-height:13px;white-space:nowrap">Item(s) Saved</div></body></html>
